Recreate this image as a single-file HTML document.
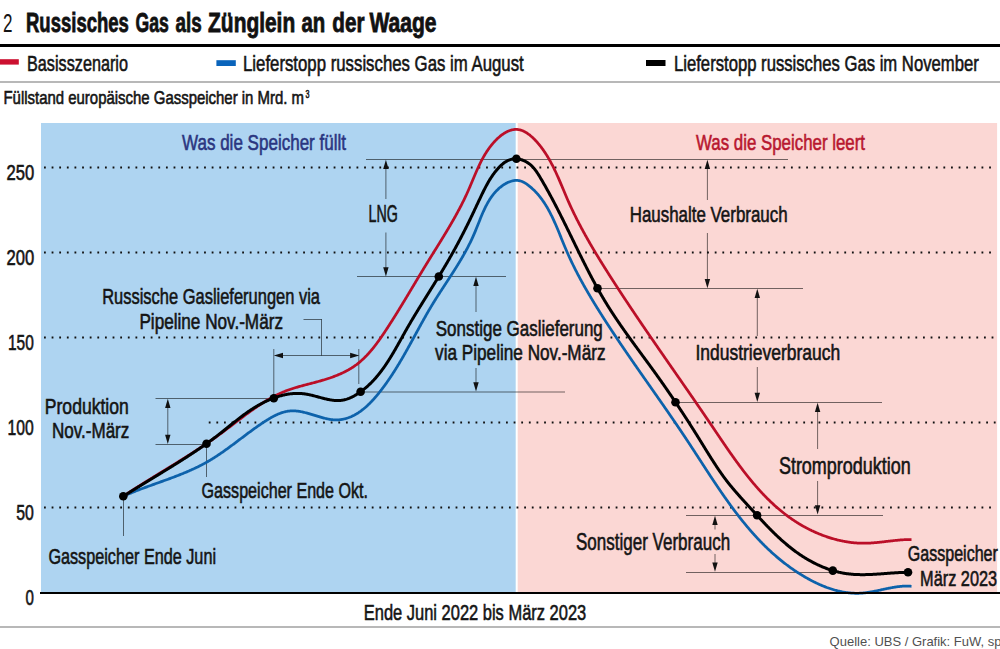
<!DOCTYPE html>
<html><head><meta charset="utf-8"><style>
html,body{margin:0;padding:0;background:#fff;}
svg{display:block;}
text{font-family:"Liberation Sans",sans-serif;}
</style></head><body>
<svg width="1000" height="649" viewBox="0 0 1000 649">
<rect x="0" y="0" width="1000" height="649" fill="#fff"/>
<text x="2.90" y="31.90" font-size="25.58" fill="#141414" textLength="9.50" lengthAdjust="spacingAndGlyphs" stroke="#141414" stroke-width="0">2</text>
<text x="26.00" y="31.80" font-size="26.74" font-weight="bold" fill="#111" textLength="102.89" lengthAdjust="spacingAndGlyphs" stroke="#111" stroke-width="0.8">Russisches</text>
<text x="135.50" y="31.80" font-size="26.74" font-weight="bold" fill="#111" textLength="33.30" lengthAdjust="spacingAndGlyphs" stroke="#111" stroke-width="0.8">Gas</text>
<text x="175.60" y="31.80" font-size="26.74" font-weight="bold" fill="#111" textLength="26.20" lengthAdjust="spacingAndGlyphs" stroke="#111" stroke-width="0.8">als</text>
<text x="208.10" y="31.80" font-size="26.74" font-weight="bold" fill="#111" textLength="87.10" lengthAdjust="spacingAndGlyphs" stroke="#111" stroke-width="0.8">Zünglein</text>
<text x="301.50" y="31.80" font-size="26.74" font-weight="bold" fill="#111" textLength="23.80" lengthAdjust="spacingAndGlyphs" stroke="#111" stroke-width="0.8">an</text>
<text x="332.30" y="31.80" font-size="26.74" font-weight="bold" fill="#111" textLength="32.20" lengthAdjust="spacingAndGlyphs" stroke="#111" stroke-width="0.8">der</text>
<text x="369.40" y="31.80" font-size="26.74" font-weight="bold" fill="#111" textLength="67.10" lengthAdjust="spacingAndGlyphs" stroke="#111" stroke-width="0.8">Waage</text>
<rect x="0" y="44" width="1000" height="3" fill="#000"/>
<rect x="0" y="59.2" width="18.8" height="5.4" fill="#cc1030"/>
<text x="27.00" y="71.00" font-size="22.97" fill="#141414" textLength="101.00" lengthAdjust="spacingAndGlyphs" stroke="#141414" stroke-width="0.6">Basisszenario</text>
<rect x="216.4" y="60.2" width="19.4" height="5.8" fill="#0a64bb"/>
<text x="243.00" y="71.00" font-size="22.97" fill="#141414" textLength="280.75" lengthAdjust="spacingAndGlyphs" stroke="#141414" stroke-width="0.6">Lieferstopp russisches Gas im August</text>
<rect x="646" y="60" width="19.5" height="6" fill="#000"/>
<text x="674.00" y="71.00" font-size="22.97" fill="#141414" textLength="304.75" lengthAdjust="spacingAndGlyphs" stroke="#141414" stroke-width="0.6">Lieferstopp russisches Gas im November</text>
<rect x="0" y="81" width="1000" height="2" fill="#b8b8b8"/>
<text x="3.50" y="103.70" font-size="18.60" fill="#141414" textLength="300.50" lengthAdjust="spacingAndGlyphs" stroke="#141414" stroke-width="0.6">Füllstand europäische Gasspeicher in Mrd. m</text>
<text x="305.60" y="98.40" font-size="11.63" fill="#141414" textLength="4.00" lengthAdjust="spacingAndGlyphs" stroke="#141414" stroke-width="0.6">3</text>
<rect x="41" y="123" width="474.7" height="469.5" fill="#aed4f1"/>
<rect x="517.7" y="123" width="479.4" height="469.5" fill="#fbd7d4"/>
<line x1="44" y1="167.50" x2="992" y2="167.50" stroke="#111" stroke-width="1.8" stroke-dasharray="1.8 5.822"/>
<line x1="44" y1="252.50" x2="992" y2="252.50" stroke="#111" stroke-width="1.8" stroke-dasharray="1.8 5.822"/>
<line x1="44" y1="507.50" x2="992" y2="507.50" stroke="#111" stroke-width="1.8" stroke-dasharray="1.8 5.822"/>
<line x1="44" y1="337.50" x2="420" y2="337.50" stroke="#111" stroke-width="1.8" stroke-dasharray="1.8 5.822"/>
<line x1="610.5" y1="337.50" x2="994" y2="337.50" stroke="#111" stroke-width="1.8" stroke-dasharray="1.8 5.822"/>
<line x1="208.75" y1="422.50" x2="996" y2="422.50" stroke="#111" stroke-width="1.8" stroke-dasharray="1.8 5.822"/>
<rect x="0" y="626" width="1000" height="2" fill="#b8b8b8"/>
<text x="6.50" y="179.50" font-size="22.09" fill="#141414" textLength="27.71" lengthAdjust="spacingAndGlyphs" stroke="#141414" stroke-width="0.6">250</text>
<text x="6.50" y="264.50" font-size="22.09" fill="#141414" textLength="27.71" lengthAdjust="spacingAndGlyphs" stroke="#141414" stroke-width="0.6">200</text>
<text x="8.00" y="349.50" font-size="22.09" fill="#141414" textLength="25.81" lengthAdjust="spacingAndGlyphs" stroke="#141414" stroke-width="0.6">150</text>
<text x="7.60" y="434.50" font-size="22.09" fill="#141414" textLength="26.21" lengthAdjust="spacingAndGlyphs" stroke="#141414" stroke-width="0.6">100</text>
<text x="16.20" y="519.50" font-size="22.09" fill="#141414" textLength="17.60" lengthAdjust="spacingAndGlyphs" stroke="#141414" stroke-width="0.6">50</text>
<text x="25.40" y="604.50" font-size="22.09" fill="#141414" textLength="8.40" lengthAdjust="spacingAndGlyphs" stroke="#141414" stroke-width="0.6">0</text>
<text x="182.00" y="150.00" font-size="22.67" fill="#2a3580" textLength="164.00" lengthAdjust="spacingAndGlyphs" stroke="#2a3580" stroke-width="0.6">Was die Speicher füllt</text>
<text x="696.00" y="150.40" font-size="22.67" fill="#b8172f" textLength="169.00" lengthAdjust="spacingAndGlyphs" stroke="#b8172f" stroke-width="0.6">Was die Speicher leert</text>
<line x1="155.5" y1="398.5" x2="273.8" y2="398.5" stroke="rgba(0,0,0,0.55)" stroke-width="1"/>
<line x1="155.5" y1="444.5" x2="206.5" y2="444.5" stroke="rgba(0,0,0,0.55)" stroke-width="1"/>
<line x1="167.8" y1="405" x2="167.8" y2="436" stroke="rgba(0,0,0,0.55)" stroke-width="1"/>
<polygon points="167.80,398.80 165.10,408.00 170.50,408.00" fill="#111"/>
<polygon points="167.80,444.00 165.10,434.80 170.50,434.80" fill="#111"/>
<line x1="123.5" y1="496" x2="123.5" y2="536" stroke="rgba(0,0,0,0.55)" stroke-width="1"/>
<line x1="206.5" y1="444" x2="206.5" y2="477" stroke="rgba(0,0,0,0.55)" stroke-width="1"/>
<line x1="273.8" y1="349" x2="273.8" y2="398" stroke="rgba(0,0,0,0.55)" stroke-width="1"/>
<line x1="358.8" y1="349" x2="358.8" y2="384" stroke="rgba(0,0,0,0.55)" stroke-width="1"/>
<line x1="281" y1="355.5" x2="352" y2="355.5" stroke="rgba(0,0,0,0.55)" stroke-width="1"/>
<polygon points="273.80,355.50 283.00,352.80 283.00,358.20" fill="#111"/>
<polygon points="359.30,355.50 350.10,352.80 350.10,358.20" fill="#111"/>
<line x1="303.5" y1="319.5" x2="322" y2="319.5" stroke="rgba(0,0,0,0.55)" stroke-width="1"/>
<line x1="321.5" y1="319.5" x2="321.5" y2="355.5" stroke="rgba(0,0,0,0.55)" stroke-width="1"/>
<line x1="366" y1="159.5" x2="788" y2="159.5" stroke="rgba(0,0,0,0.55)" stroke-width="1"/>
<line x1="357" y1="276.5" x2="506" y2="276.5" stroke="rgba(0,0,0,0.55)" stroke-width="1"/>
<line x1="360.6" y1="392" x2="565" y2="392" stroke="rgba(0,0,0,0.55)" stroke-width="1"/>
<line x1="385.9" y1="166" x2="385.9" y2="199" stroke="rgba(0,0,0,0.55)" stroke-width="1"/>
<polygon points="385.90,159.80 383.20,169.00 388.60,169.00" fill="#111"/>
<line x1="385.9" y1="232.5" x2="385.9" y2="270" stroke="rgba(0,0,0,0.55)" stroke-width="1"/>
<polygon points="385.90,276.50 383.20,267.30 388.60,267.30" fill="#111"/>
<line x1="476" y1="283" x2="476" y2="312" stroke="rgba(0,0,0,0.55)" stroke-width="1"/>
<polygon points="476.00,276.80 473.30,286.00 478.70,286.00" fill="#111"/>
<line x1="476" y1="368" x2="476" y2="385" stroke="rgba(0,0,0,0.55)" stroke-width="1"/>
<polygon points="476.00,391.50 473.30,382.30 478.70,382.30" fill="#111"/>
<line x1="597.5" y1="288.5" x2="803" y2="288.5" stroke="rgba(0,0,0,0.55)" stroke-width="1"/>
<line x1="675.5" y1="402.5" x2="882" y2="402.5" stroke="rgba(0,0,0,0.55)" stroke-width="1"/>
<line x1="686" y1="515.5" x2="883" y2="515.5" stroke="rgba(0,0,0,0.55)" stroke-width="1"/>
<line x1="686" y1="572.5" x2="832.7" y2="572.5" stroke="rgba(0,0,0,0.55)" stroke-width="1"/>
<line x1="707.4" y1="166" x2="707.4" y2="200" stroke="rgba(0,0,0,0.55)" stroke-width="1"/>
<polygon points="707.40,159.80 704.70,169.00 710.10,169.00" fill="#111"/>
<line x1="707.4" y1="233" x2="707.4" y2="282" stroke="rgba(0,0,0,0.55)" stroke-width="1"/>
<polygon points="707.40,288.30 704.70,279.10 710.10,279.10" fill="#111"/>
<line x1="757.3" y1="295" x2="757.3" y2="336" stroke="rgba(0,0,0,0.55)" stroke-width="1"/>
<polygon points="757.30,288.80 754.60,298.00 760.00,298.00" fill="#111"/>
<line x1="757.3" y1="367" x2="757.3" y2="395" stroke="rgba(0,0,0,0.55)" stroke-width="1"/>
<polygon points="757.30,402.00 754.60,392.80 760.00,392.80" fill="#111"/>
<line x1="817.6" y1="409" x2="817.6" y2="449" stroke="rgba(0,0,0,0.55)" stroke-width="1"/>
<polygon points="817.60,402.80 814.90,412.00 820.30,412.00" fill="#111"/>
<line x1="817.6" y1="481" x2="817.6" y2="507" stroke="rgba(0,0,0,0.55)" stroke-width="1"/>
<polygon points="817.60,514.50 814.90,505.30 820.30,505.30" fill="#111"/>
<line x1="715" y1="522" x2="715" y2="529.5" stroke="rgba(0,0,0,0.55)" stroke-width="1"/>
<polygon points="715.00,515.80 712.30,525.00 717.70,525.00" fill="#111"/>
<line x1="715" y1="554" x2="715" y2="565" stroke="rgba(0,0,0,0.55)" stroke-width="1"/>
<polygon points="715.00,571.80 712.30,562.60 717.70,562.60" fill="#111"/>
<path d="M123.30,496.30 L124.02,495.98 L124.75,495.66 L125.47,495.34 L126.20,495.02 L126.92,494.70 L127.65,494.39 L128.38,494.08 L129.11,493.77 L129.84,493.46 L130.58,493.16 L131.31,492.86 L132.05,492.55 L132.79,492.25 L133.52,491.96 L134.26,491.66 L135.00,491.37 L135.75,491.07 L136.49,490.78 L137.23,490.49 L137.97,490.20 L138.72,489.92 L139.47,489.63 L140.21,489.34 L140.96,489.06 L141.71,488.78 L142.46,488.50 L143.21,488.22 L143.96,487.94 L144.71,487.66 L145.46,487.38 L146.21,487.10 L146.97,486.83 L147.72,486.55 L148.47,486.27 L149.23,486.00 L149.98,485.73 L150.74,485.45 L151.49,485.18 L152.25,484.91 L153.00,484.64 L153.76,484.36 L154.52,484.09 L155.27,483.82 L156.03,483.55 L156.79,483.28 L157.55,483.01 L158.30,482.73 L159.06,482.46 L159.82,482.19 L160.58,481.92 L161.33,481.65 L162.09,481.37 L162.85,481.10 L163.60,480.83 L164.36,480.55 L165.12,480.28 L165.87,480.01 L166.63,479.73 L167.39,479.45 L168.14,479.18 L168.90,478.90 L169.65,478.62 L170.40,478.34 L171.16,478.06 L171.91,477.78 L172.66,477.50 L173.42,477.22 L174.17,476.93 L174.92,476.65 L175.67,476.36 L176.42,476.07 L177.17,475.78 L177.92,475.49 L178.66,475.20 L179.41,474.90 L180.16,474.61 L180.90,474.31 L181.64,474.01 L182.39,473.71 L183.13,473.41 L183.87,473.10 L184.61,472.80 L185.35,472.49 L186.09,472.18 L186.82,471.87 L187.56,471.55 L188.30,471.24 L189.03,470.92 L189.76,470.60 L190.49,470.27 L191.22,469.95 L191.95,469.62 L192.68,469.29 L193.40,468.96 L194.12,468.62 L194.85,468.28 L195.57,467.94 L196.29,467.60 L197.00,467.25 L197.72,466.91 L198.44,466.55 L199.15,466.20 L199.86,465.84 L200.57,465.48 L201.28,465.12 L201.98,464.75 L202.69,464.38 L203.39,464.00 L204.09,463.63 L204.79,463.25 L205.48,462.86 L206.18,462.48 L206.87,462.09 L207.56,461.69 L208.25,461.29 L208.94,460.89 L209.62,460.49 L210.31,460.08 L210.99,459.67 L211.67,459.25 L212.34,458.84 L213.02,458.42 L213.69,457.99 L214.37,457.57 L215.04,457.14 L215.71,456.71 L216.37,456.27 L217.04,455.84 L217.70,455.40 L218.37,454.96 L219.03,454.51 L219.69,454.06 L220.35,453.62 L221.01,453.17 L221.67,452.71 L222.32,452.26 L222.98,451.80 L223.63,451.34 L224.29,450.88 L224.94,450.42 L225.59,449.95 L226.24,449.49 L226.89,449.02 L227.54,448.55 L228.18,448.08 L228.83,447.61 L229.48,447.14 L230.12,446.66 L230.77,446.19 L231.41,445.71 L232.06,445.24 L232.70,444.76 L233.34,444.28 L233.99,443.80 L234.63,443.32 L235.27,442.84 L235.91,442.36 L236.55,441.88 L237.20,441.39 L237.84,440.91 L238.48,440.43 L239.12,439.94 L239.76,439.46 L240.40,438.98 L241.04,438.49 L241.68,438.01 L242.32,437.53 L242.97,437.04 L243.61,436.56 L244.25,436.08 L244.89,435.60 L245.53,435.12 L246.18,434.64 L246.82,434.16 L247.46,433.68 L248.11,433.20 L248.75,432.72 L249.40,432.24 L250.04,431.77 L250.69,431.29 L251.34,430.82 L251.99,430.35 L252.63,429.87 L253.28,429.40 L253.93,428.94 L254.59,428.47 L255.24,428.00 L255.89,427.54 L256.55,427.08 L257.20,426.62 L257.86,426.16 L258.52,425.70 L259.17,425.25 L259.83,424.79 L260.50,424.34 L261.16,423.89 L261.82,423.45 L262.49,423.00 L263.16,422.56 L263.82,422.12 L264.49,421.69 L265.17,421.25 L265.84,420.82 L266.51,420.39 L267.19,419.97 L267.87,419.55 L268.55,419.13 L269.23,418.72 L269.92,418.32 L270.60,417.92 L271.29,417.52 L271.98,417.14 L272.67,416.76 L273.37,416.39 L274.07,416.02 L274.77,415.67 L275.47,415.32 L276.18,414.98 L276.89,414.66 L277.60,414.34 L278.31,414.03 L279.03,413.74 L279.75,413.45 L280.47,413.18 L281.20,412.92 L281.93,412.68 L282.66,412.44 L283.40,412.23 L284.14,412.02 L284.88,411.83 L285.63,411.66 L286.38,411.50 L287.14,411.35 L287.89,411.22 L288.66,411.11 L289.42,411.02 L290.19,410.95 L290.97,410.89 L291.75,410.85 L292.53,410.83 L293.32,410.83 L294.11,410.85 L294.91,410.89 L295.71,410.94 L296.51,411.01 L297.32,411.10 L298.13,411.21 L298.94,411.33 L299.76,411.46 L300.57,411.60 L301.40,411.76 L302.22,411.93 L303.05,412.12 L303.88,412.31 L304.71,412.51 L305.54,412.72 L306.37,412.94 L307.21,413.16 L308.04,413.40 L308.88,413.63 L309.72,413.88 L310.56,414.13 L311.40,414.38 L312.24,414.63 L313.08,414.89 L313.92,415.14 L314.76,415.40 L315.59,415.66 L316.43,415.92 L317.27,416.17 L318.11,416.42 L318.94,416.67 L319.77,416.92 L320.61,417.16 L321.44,417.40 L322.26,417.63 L323.09,417.85 L323.92,418.06 L324.74,418.27 L325.56,418.47 L326.37,418.65 L327.18,418.83 L327.99,419.00 L328.80,419.15 L329.60,419.29 L330.40,419.42 L331.20,419.53 L331.99,419.63 L332.77,419.71 L333.56,419.77 L334.33,419.82 L335.11,419.85 L335.88,419.87 L336.64,419.86 L337.40,419.85 L338.15,419.81 L338.91,419.76 L339.65,419.70 L340.39,419.62 L341.13,419.52 L341.86,419.41 L342.59,419.29 L343.32,419.15 L344.04,419.00 L344.75,418.83 L345.47,418.65 L346.17,418.45 L346.88,418.24 L347.58,418.02 L348.27,417.79 L348.96,417.54 L349.65,417.28 L350.33,417.00 L351.01,416.72 L351.69,416.42 L352.36,416.11 L353.03,415.79 L353.69,415.46 L354.35,415.12 L355.00,414.76 L355.65,414.39 L356.30,414.02 L356.95,413.63 L357.59,413.23 L358.22,412.83 L358.85,412.41 L359.48,411.98 L360.11,411.55 L360.73,411.10 L361.35,410.65 L361.96,410.18 L362.57,409.71 L363.18,409.23 L363.78,408.74 L364.38,408.24 L364.98,407.74 L365.57,407.22 L366.16,406.70 L366.74,406.18 L367.33,405.64 L367.90,405.10 L368.48,404.55 L369.05,404.00 L369.62,403.44 L370.19,402.87 L370.75,402.30 L371.31,401.72 L371.86,401.13 L372.41,400.54 L372.96,399.95 L373.51,399.35 L374.05,398.75 L374.59,398.14 L375.13,397.52 L375.66,396.91 L376.19,396.29 L376.72,395.66 L377.24,395.03 L377.76,394.40 L378.28,393.77 L378.80,393.13 L379.31,392.49 L379.82,391.85 L380.33,391.20 L380.83,390.55 L381.33,389.91 L381.83,389.25 L382.32,388.60 L382.82,387.95 L383.30,387.29 L383.79,386.64 L384.28,385.98 L384.76,385.32 L385.24,384.66 L385.71,384.00 L386.19,383.34 L386.66,382.68 L387.13,382.01 L387.59,381.34 L388.06,380.68 L388.52,380.01 L388.98,379.34 L389.44,378.67 L389.89,378.00 L390.34,377.33 L390.79,376.65 L391.24,375.98 L391.69,375.30 L392.13,374.63 L392.58,373.95 L393.02,373.27 L393.45,372.59 L393.89,371.91 L394.32,371.23 L394.76,370.55 L395.19,369.87 L395.62,369.18 L396.04,368.50 L396.47,367.81 L396.89,367.13 L397.31,366.44 L397.73,365.75 L398.15,365.06 L398.57,364.38 L398.98,363.69 L399.40,363.00 L399.81,362.30 L400.22,361.61 L400.63,360.92 L401.04,360.23 L401.45,359.54 L401.85,358.84 L402.26,358.15 L402.66,357.45 L403.06,356.76 L403.46,356.06 L403.86,355.37 L404.26,354.67 L404.66,353.97 L405.05,353.28 L405.45,352.58 L405.84,351.88 L406.24,351.18 L406.63,350.48 L407.02,349.78 L407.41,349.09 L407.80,348.39 L408.19,347.69 L408.58,346.99 L408.97,346.29 L409.36,345.59 L409.74,344.89 L410.13,344.18 L410.52,343.48 L410.90,342.78 L411.29,342.08 L411.67,341.38 L412.05,340.68 L412.44,339.98 L412.82,339.28 L413.20,338.58 L413.59,337.88 L413.97,337.17 L414.35,336.47 L414.73,335.77 L415.11,335.07 L415.50,334.37 L415.88,333.67 L416.26,332.97 L416.64,332.27 L417.02,331.57 L417.40,330.87 L417.79,330.17 L418.17,329.47 L418.55,328.77 L418.93,328.07 L419.32,327.37 L419.70,326.68 L420.08,325.98 L420.47,325.28 L420.85,324.58 L421.23,323.89 L421.62,323.19 L422.00,322.50 L422.39,321.80 L422.78,321.11 L423.16,320.41 L423.55,319.72 L423.94,319.02 L424.33,318.33 L424.72,317.64 L425.11,316.95 L425.50,316.26 L425.89,315.56 L426.29,314.88 L426.68,314.19 L427.07,313.50 L427.47,312.81 L427.87,312.12 L428.26,311.44 L428.66,310.75 L429.06,310.07 L429.46,309.38 L429.87,308.70 L430.27,308.02 L430.67,307.33 L431.08,306.65 L431.49,305.97 L431.90,305.30 L432.31,304.62 L432.72,303.94 L433.13,303.26 L433.54,302.59 L433.96,301.91 L434.38,301.24 L434.79,300.57 L435.21,299.90 L435.63,299.22 L436.06,298.55 L436.48,297.88 L436.90,297.22 L437.33,296.55 L437.75,295.88 L438.18,295.21 L438.60,294.54 L439.03,293.88 L439.46,293.21 L439.89,292.55 L440.32,291.88 L440.75,291.22 L441.18,290.55 L441.61,289.89 L442.04,289.22 L442.48,288.56 L442.91,287.89 L443.34,287.23 L443.78,286.57 L444.21,285.90 L444.64,285.24 L445.08,284.58 L445.51,283.91 L445.95,283.25 L446.38,282.59 L446.81,281.92 L447.25,281.26 L447.68,280.59 L448.12,279.93 L448.55,279.26 L448.98,278.60 L449.42,277.93 L449.85,277.27 L450.28,276.60 L450.71,275.94 L451.15,275.27 L451.58,274.60 L452.01,273.93 L452.44,273.26 L452.87,272.60 L453.29,271.93 L453.72,271.25 L454.15,270.58 L454.58,269.91 L455.00,269.24 L455.43,268.57 L455.85,267.89 L456.27,267.22 L456.69,266.54 L457.11,265.86 L457.53,265.19 L457.95,264.51 L458.37,263.83 L458.78,263.15 L459.20,262.46 L459.61,261.78 L460.02,261.10 L460.43,260.41 L460.84,259.72 L461.25,259.04 L461.65,258.35 L462.06,257.66 L462.46,256.96 L462.86,256.27 L463.26,255.57 L463.65,254.88 L464.05,254.18 L464.44,253.48 L464.83,252.78 L465.22,252.08 L465.61,251.37 L465.99,250.67 L466.38,249.96 L466.76,249.25 L467.14,248.54 L467.51,247.83 L467.89,247.11 L468.26,246.40 L468.63,245.68 L468.99,244.96 L469.36,244.24 L469.72,243.51 L470.08,242.79 L470.44,242.06 L470.79,241.33 L471.14,240.59 L471.49,239.86 L471.84,239.12 L472.18,238.38 L472.52,237.64 L472.86,236.90 L473.19,236.15 L473.52,235.40 L473.85,234.65 L474.18,233.90 L474.50,233.15 L474.82,232.39 L475.14,231.63 L475.45,230.87 L475.76,230.11 L476.08,229.34 L476.39,228.58 L476.69,227.81 L477.00,227.05 L477.31,226.28 L477.61,225.51 L477.92,224.74 L478.22,223.97 L478.53,223.21 L478.84,222.44 L479.14,221.67 L479.45,220.91 L479.75,220.14 L480.06,219.38 L480.37,218.61 L480.68,217.85 L480.99,217.09 L481.31,216.33 L481.62,215.57 L481.94,214.82 L482.26,214.07 L482.59,213.32 L482.92,212.57 L483.25,211.82 L483.58,211.08 L483.92,210.34 L484.26,209.61 L484.60,208.87 L484.95,208.15 L485.30,207.42 L485.66,206.70 L486.02,205.98 L486.39,205.27 L486.77,204.56 L487.15,203.86 L487.53,203.16 L487.92,202.47 L488.32,201.78 L488.72,201.10 L489.13,200.43 L489.55,199.76 L489.97,199.09 L490.40,198.43 L490.84,197.78 L491.29,197.13 L491.74,196.49 L492.20,195.86 L492.67,195.24 L493.15,194.62 L493.64,194.01 L494.13,193.41 L494.64,192.81 L495.15,192.22 L495.68,191.64 L496.21,191.07 L496.76,190.51 L497.31,189.96 L497.88,189.41 L498.45,188.88 L499.04,188.35 L499.64,187.83 L500.25,187.32 L500.87,186.83 L501.50,186.34 L502.14,185.86 L502.79,185.40 L503.46,184.95 L504.13,184.51 L504.81,184.09 L505.49,183.69 L506.19,183.31 L506.89,182.94 L507.59,182.60 L508.30,182.27 L509.02,181.97 L509.74,181.69 L510.46,181.44 L511.19,181.21 L511.92,181.00 L512.65,180.83 L513.38,180.68 L514.11,180.56 L514.84,180.48 L515.58,180.42 L516.31,180.40 L517.03,180.41 L517.76,180.46 L518.48,180.54 L519.20,180.66 L519.92,180.82 L520.63,181.02 L521.33,181.25 L522.03,181.52 L522.73,181.82 L523.42,182.14 L524.10,182.50 L524.78,182.88 L525.45,183.28 L526.11,183.71 L526.77,184.15 L527.42,184.61 L528.06,185.09 L528.70,185.57 L529.33,186.07 L529.94,186.57 L530.56,187.08 L531.16,187.60 L531.76,188.12 L532.34,188.65 L532.92,189.19 L533.50,189.73 L534.06,190.28 L534.62,190.83 L535.17,191.39 L535.71,191.96 L536.25,192.53 L536.78,193.11 L537.30,193.69 L537.82,194.28 L538.33,194.87 L538.83,195.47 L539.33,196.08 L539.82,196.68 L540.31,197.30 L540.78,197.92 L541.26,198.54 L541.72,199.17 L542.19,199.81 L542.64,200.45 L543.09,201.09 L543.53,201.74 L543.97,202.39 L544.41,203.05 L544.84,203.71 L545.26,204.37 L545.68,205.04 L546.09,205.71 L546.50,206.39 L546.91,207.07 L547.31,207.75 L547.70,208.44 L548.10,209.13 L548.48,209.83 L548.87,210.53 L549.25,211.23 L549.62,211.93 L550.00,212.64 L550.36,213.35 L550.73,214.06 L551.09,214.78 L551.45,215.50 L551.81,216.22 L552.16,216.94 L552.51,217.67 L552.85,218.40 L553.20,219.13 L553.54,219.86 L553.88,220.60 L554.21,221.34 L554.54,222.07 L554.88,222.82 L555.21,223.56 L555.53,224.30 L555.86,225.05 L556.18,225.80 L556.50,226.55 L556.82,227.30 L557.14,228.05 L557.46,228.80 L557.77,229.56 L558.09,230.31 L558.40,231.07 L558.71,231.83 L559.03,232.58 L559.34,233.34 L559.65,234.10 L559.96,234.86 L560.27,235.62 L560.58,236.38 L560.89,237.14 L561.19,237.90 L561.50,238.66 L561.81,239.42 L562.12,240.18 L562.43,240.94 L562.74,241.70 L563.05,242.46 L563.36,243.22 L563.67,243.98 L563.98,244.74 L564.30,245.49 L564.61,246.25 L564.93,247.00 L565.24,247.76 L565.56,248.51 L565.88,249.26 L566.20,250.01 L566.52,250.76 L566.85,251.51 L567.17,252.26 L567.50,253.00 L567.83,253.75 L568.16,254.49 L568.50,255.23 L568.83,255.97 L569.17,256.71 L569.50,257.45 L569.84,258.18 L570.18,258.92 L570.53,259.65 L570.87,260.38 L571.22,261.11 L571.56,261.84 L571.91,262.57 L572.26,263.30 L572.61,264.03 L572.97,264.75 L573.32,265.48 L573.68,266.20 L574.03,266.92 L574.39,267.64 L574.75,268.36 L575.11,269.08 L575.48,269.80 L575.84,270.51 L576.21,271.23 L576.58,271.94 L576.94,272.65 L577.31,273.37 L577.68,274.08 L578.06,274.79 L578.43,275.50 L578.81,276.20 L579.18,276.91 L579.56,277.62 L579.94,278.32 L580.32,279.03 L580.70,279.73 L581.08,280.43 L581.46,281.13 L581.85,281.83 L582.23,282.53 L582.62,283.23 L583.01,283.93 L583.40,284.63 L583.79,285.32 L584.18,286.02 L584.57,286.71 L584.96,287.41 L585.36,288.10 L585.75,288.79 L586.15,289.48 L586.55,290.18 L586.95,290.87 L587.35,291.55 L587.75,292.24 L588.15,292.93 L588.55,293.62 L588.95,294.30 L589.36,294.99 L589.76,295.68 L590.17,296.36 L590.57,297.04 L590.98,297.73 L591.39,298.41 L591.80,299.09 L592.21,299.77 L592.62,300.45 L593.03,301.13 L593.44,301.81 L593.86,302.49 L594.27,303.17 L594.69,303.85 L595.10,304.53 L595.52,305.20 L595.93,305.88 L596.35,306.56 L596.77,307.23 L597.19,307.91 L597.61,308.58 L598.03,309.26 L598.45,309.93 L598.87,310.60 L599.29,311.28 L599.71,311.95 L600.14,312.62 L600.56,313.30 L600.99,313.97 L601.41,314.64 L601.84,315.31 L602.26,315.98 L602.69,316.65 L603.12,317.32 L603.54,317.99 L603.97,318.66 L604.40,319.33 L604.83,319.99 L605.26,320.66 L605.69,321.33 L606.12,322.00 L606.55,322.66 L606.98,323.33 L607.42,324.00 L607.85,324.66 L608.28,325.33 L608.72,325.99 L609.15,326.66 L609.59,327.32 L610.02,327.99 L610.46,328.65 L610.89,329.32 L611.33,329.98 L611.77,330.64 L612.20,331.31 L612.64,331.97 L613.08,332.63 L613.52,333.29 L613.96,333.96 L614.40,334.62 L614.84,335.28 L615.28,335.94 L615.72,336.60 L616.16,337.26 L616.60,337.92 L617.05,338.58 L617.49,339.24 L617.93,339.90 L618.38,340.56 L618.82,341.22 L619.26,341.88 L619.71,342.54 L620.15,343.20 L620.60,343.85 L621.04,344.51 L621.49,345.17 L621.94,345.83 L622.38,346.49 L622.83,347.14 L623.28,347.80 L623.72,348.46 L624.17,349.11 L624.62,349.77 L625.07,350.43 L625.52,351.08 L625.97,351.74 L626.42,352.40 L626.87,353.05 L627.32,353.71 L627.77,354.36 L628.22,355.02 L628.67,355.68 L629.12,356.33 L629.57,356.99 L630.02,357.64 L630.47,358.30 L630.93,358.95 L631.38,359.61 L631.83,360.26 L632.28,360.91 L632.74,361.57 L633.19,362.22 L633.64,362.88 L634.10,363.53 L634.55,364.19 L635.01,364.84 L635.46,365.49 L635.92,366.15 L636.37,366.80 L636.82,367.45 L637.28,368.11 L637.74,368.76 L638.19,369.41 L638.65,370.07 L639.10,370.72 L639.56,371.38 L640.01,372.03 L640.47,372.68 L640.93,373.34 L641.38,373.99 L641.84,374.64 L642.30,375.30 L642.75,375.95 L643.21,376.60 L643.67,377.26 L644.12,377.91 L644.58,378.56 L645.04,379.21 L645.50,379.87 L645.95,380.52 L646.41,381.17 L646.87,381.83 L647.33,382.48 L647.78,383.14 L648.24,383.79 L648.70,384.44 L649.16,385.10 L649.62,385.75 L650.07,386.40 L650.53,387.06 L650.99,387.71 L651.45,388.36 L651.91,389.02 L652.36,389.67 L652.82,390.33 L653.28,390.98 L653.74,391.63 L654.20,392.29 L654.65,392.94 L655.11,393.60 L655.57,394.25 L656.03,394.91 L656.49,395.56 L656.94,396.22 L657.40,396.87 L657.86,397.53 L658.32,398.18 L658.78,398.84 L659.23,399.49 L659.69,400.15 L660.15,400.81 L660.61,401.46 L661.06,402.12 L661.52,402.77 L661.98,403.43 L662.43,404.09 L662.89,404.74 L663.35,405.40 L663.81,406.06 L664.26,406.72 L664.72,407.37 L665.18,408.03 L665.63,408.69 L666.09,409.35 L666.54,410.01 L667.00,410.66 L667.46,411.32 L667.91,411.98 L668.37,412.64 L668.82,413.30 L669.28,413.96 L669.73,414.62 L670.19,415.28 L670.64,415.94 L671.10,416.60 L671.55,417.26 L672.00,417.92 L672.46,418.58 L672.91,419.25 L673.36,419.91 L673.82,420.57 L674.27,421.23 L674.72,421.89 L675.18,422.56 L675.63,423.22 L676.08,423.88 L676.53,424.55 L676.98,425.21 L677.43,425.88 L677.89,426.54 L678.34,427.21 L678.79,427.87 L679.24,428.54 L679.69,429.20 L680.14,429.87 L680.59,430.54 L681.03,431.20 L681.48,431.87 L681.93,432.54 L682.38,433.20 L682.83,433.87 L683.27,434.54 L683.72,435.21 L684.17,435.88 L684.61,436.55 L685.06,437.22 L685.51,437.89 L685.95,438.56 L686.40,439.23 L686.84,439.90 L687.29,440.57 L687.73,441.25 L688.17,441.92 L688.62,442.59 L689.06,443.27 L689.50,443.94 L689.94,444.61 L690.39,445.29 L690.83,445.96 L691.27,446.64 L691.71,447.31 L692.15,447.99 L692.59,448.66 L693.03,449.34 L693.47,450.01 L693.91,450.69 L694.35,451.37 L694.79,452.04 L695.23,452.72 L695.67,453.39 L696.11,454.07 L696.55,454.75 L696.99,455.43 L697.43,456.10 L697.87,456.78 L698.31,457.46 L698.75,458.13 L699.19,458.81 L699.63,459.49 L700.07,460.16 L700.51,460.84 L700.95,461.52 L701.39,462.20 L701.82,462.87 L702.26,463.55 L702.70,464.23 L703.14,464.90 L703.58,465.58 L704.02,466.26 L704.46,466.93 L704.90,467.61 L705.34,468.29 L705.78,468.96 L706.22,469.64 L706.67,470.31 L707.11,470.99 L707.55,471.66 L707.99,472.34 L708.43,473.01 L708.87,473.69 L709.32,474.36 L709.76,475.03 L710.20,475.71 L710.64,476.38 L711.09,477.05 L711.53,477.73 L711.98,478.40 L712.42,479.07 L712.87,479.74 L713.31,480.41 L713.76,481.08 L714.20,481.75 L714.65,482.42 L715.10,483.09 L715.55,483.76 L715.99,484.43 L716.44,485.09 L716.89,485.76 L717.34,486.43 L717.79,487.09 L718.24,487.76 L718.69,488.42 L719.14,489.09 L719.60,489.75 L720.05,490.41 L720.50,491.08 L720.96,491.74 L721.41,492.40 L721.87,493.06 L722.32,493.72 L722.78,494.38 L723.24,495.04 L723.70,495.70 L724.16,496.35 L724.61,497.01 L725.08,497.66 L725.54,498.32 L726.00,498.97 L726.46,499.63 L726.92,500.28 L727.39,500.93 L727.85,501.58 L728.32,502.23 L728.79,502.88 L729.25,503.53 L729.72,504.17 L730.19,504.82 L730.66,505.47 L731.13,506.11 L731.60,506.75 L732.08,507.40 L732.55,508.04 L733.03,508.68 L733.50,509.32 L733.98,509.96 L734.46,510.60 L734.93,511.23 L735.41,511.87 L735.89,512.50 L736.38,513.13 L736.86,513.77 L737.34,514.40 L737.83,515.03 L738.31,515.66 L738.80,516.28 L739.29,516.91 L739.78,517.54 L740.27,518.16 L740.76,518.78 L741.25,519.41 L741.75,520.03 L742.24,520.65 L742.74,521.26 L743.24,521.88 L743.74,522.50 L744.24,523.11 L744.74,523.72 L745.24,524.33 L745.75,524.95 L746.25,525.55 L746.76,526.16 L747.27,526.77 L747.78,527.37 L748.29,527.98 L748.80,528.58 L749.31,529.18 L749.83,529.78 L750.34,530.38 L750.86,530.97 L751.38,531.57 L751.90,532.16 L752.42,532.75 L752.95,533.34 L753.47,533.93 L754.00,534.52 L754.52,535.10 L755.05,535.69 L755.59,536.27 L756.12,536.85 L756.65,537.43 L757.19,538.01 L757.72,538.58 L758.26,539.16 L758.80,539.73 L759.35,540.30 L759.89,540.87 L760.44,541.44 L760.98,542.00 L761.53,542.57 L762.08,543.13 L762.63,543.69 L763.19,544.25 L763.74,544.81 L764.30,545.36 L764.86,545.91 L765.42,546.47 L765.98,547.02 L766.55,547.56 L767.11,548.11 L767.68,548.65 L768.25,549.20 L768.82,549.74 L769.40,550.27 L769.97,550.81 L770.55,551.35 L771.13,551.88 L771.71,552.41 L772.29,552.94 L772.88,553.46 L773.47,553.99 L774.06,554.51 L774.65,555.03 L775.24,555.55 L775.83,556.07 L776.43,556.58 L777.03,557.09 L777.63,557.60 L778.23,558.11 L778.84,558.62 L779.45,559.12 L780.06,559.62 L780.67,560.12 L781.28,560.62 L781.90,561.11 L782.51,561.60 L783.13,562.09 L783.76,562.58 L784.38,563.07 L785.01,563.55 L785.64,564.03 L786.27,564.51 L786.90,564.99 L787.54,565.46 L788.17,565.94 L788.81,566.41 L789.46,566.87 L790.10,567.34 L790.75,567.80 L791.40,568.26 L792.05,568.72 L792.70,569.17 L793.36,569.63 L794.02,570.08 L794.68,570.52 L795.34,570.97 L796.01,571.41 L796.68,571.85 L797.35,572.29 L798.02,572.73 L798.69,573.16 L799.37,573.59 L800.05,574.02 L800.74,574.44 L801.42,574.86 L802.11,575.28 L802.80,575.70 L803.49,576.12 L804.19,576.53 L804.89,576.94 L805.59,577.34 L806.29,577.75 L807.00,578.15 L807.71,578.54 L808.42,578.94 L809.13,579.33 L809.84,579.71 L810.56,580.10 L811.28,580.48 L812.00,580.85 L812.73,581.23 L813.45,581.60 L814.18,581.96 L814.91,582.32 L815.64,582.68 L816.38,583.03 L817.11,583.38 L817.85,583.72 L818.59,584.06 L819.33,584.39 L820.08,584.72 L820.82,585.05 L821.57,585.37 L822.32,585.68 L823.07,585.99 L823.82,586.30 L824.57,586.60 L825.33,586.89 L826.09,587.18 L826.84,587.47 L827.60,587.74 L828.37,588.02 L829.13,588.28 L829.89,588.54 L830.66,588.80 L831.42,589.05 L832.19,589.29 L832.96,589.53 L833.73,589.76 L834.50,589.98 L835.28,590.20 L836.05,590.41 L836.83,590.61 L837.60,590.81 L838.38,591.00 L839.16,591.18 L839.94,591.36 L840.72,591.53 L841.50,591.69 L842.28,591.85 L843.06,591.99 L843.84,592.13 L844.63,592.27 L845.41,592.39 L846.20,592.51 L846.98,592.62 L847.77,592.72 L848.56,592.81 L849.35,592.90 L850.14,592.97 L850.92,593.04 L851.71,593.10 L852.50,593.16 L853.29,593.20 L854.08,593.23 L854.87,593.26 L855.67,593.28 L856.46,593.29 L857.25,593.28 L858.04,593.28 L858.83,593.26 L859.62,593.23 L860.42,593.19 L861.21,593.14 L862.00,593.09 L862.79,593.02 L863.59,592.95 L864.38,592.87 L865.17,592.78 L865.96,592.68 L866.76,592.57 L867.55,592.46 L868.34,592.35 L869.13,592.22 L869.93,592.09 L870.72,591.96 L871.51,591.82 L872.30,591.67 L873.10,591.52 L873.89,591.37 L874.68,591.21 L875.48,591.05 L876.27,590.89 L877.06,590.73 L877.86,590.56 L878.65,590.39 L879.44,590.22 L880.24,590.05 L881.03,589.88 L881.83,589.70 L882.62,589.53 L883.41,589.36 L884.21,589.19 L885.00,589.01 L885.80,588.85 L886.59,588.68 L887.38,588.51 L888.18,588.35 L888.97,588.19 L889.77,588.03 L890.56,587.88 L891.36,587.73 L892.15,587.58 L892.95,587.44 L893.74,587.31 L894.54,587.18 L895.33,587.05 L896.13,586.93 L896.93,586.82 L897.72,586.72 L898.52,586.62 L899.31,586.53 L900.11,586.44 L900.91,586.37 L901.70,586.30 L902.50,586.24 L903.30,586.20 L904.09,586.16 L904.89,586.13 L905.69,586.11 L906.49,586.10 L907.28,586.10 L908.08,586.12 L908.88,586.15 L909.68,586.18 L910.47,586.23 L911.27,586.30 L911.50,586.32" fill="none" stroke="#0d62ab" stroke-width="2.75" stroke-linejoin="round" stroke-linecap="butt"/>
<path d="M123.30,496.30 L123.96,495.85 L124.63,495.41 L125.29,494.97 L125.96,494.52 L126.63,494.08 L127.30,493.64 L127.96,493.20 L128.63,492.76 L129.30,492.33 L129.97,491.89 L130.64,491.45 L131.31,491.02 L131.98,490.58 L132.66,490.15 L133.33,489.71 L134.00,489.28 L134.67,488.85 L135.35,488.42 L136.02,487.99 L136.70,487.56 L137.37,487.13 L138.05,486.70 L138.72,486.27 L139.40,485.84 L140.07,485.41 L140.75,484.99 L141.43,484.56 L142.10,484.14 L142.78,483.71 L143.46,483.29 L144.14,482.86 L144.82,482.44 L145.50,482.01 L146.18,481.59 L146.86,481.17 L147.53,480.75 L148.21,480.32 L148.90,479.90 L149.58,479.48 L150.26,479.06 L150.94,478.64 L151.62,478.22 L152.30,477.80 L152.98,477.38 L153.66,476.96 L154.34,476.54 L155.03,476.12 L155.71,475.70 L156.39,475.29 L157.07,474.87 L157.75,474.45 L158.44,474.03 L159.12,473.61 L159.80,473.19 L160.48,472.78 L161.17,472.36 L161.85,471.94 L162.53,471.52 L163.21,471.10 L163.90,470.69 L164.58,470.27 L165.26,469.85 L165.94,469.43 L166.63,469.02 L167.31,468.60 L167.99,468.18 L168.67,467.76 L169.36,467.34 L170.04,466.92 L170.72,466.51 L171.40,466.09 L172.08,465.67 L172.77,465.25 L173.45,464.83 L174.13,464.41 L174.81,463.99 L175.49,463.57 L176.17,463.15 L176.85,462.73 L177.53,462.31 L178.21,461.89 L178.89,461.46 L179.57,461.04 L180.25,460.62 L180.93,460.20 L181.61,459.77 L182.29,459.35 L182.97,458.93 L183.65,458.50 L184.32,458.08 L185.00,457.65 L185.68,457.23 L186.36,456.80 L187.03,456.37 L187.71,455.95 L188.38,455.52 L189.06,455.09 L189.74,454.66 L190.41,454.23 L191.08,453.80 L191.76,453.37 L192.43,452.94 L193.10,452.50 L193.78,452.07 L194.45,451.64 L195.12,451.20 L195.79,450.77 L196.46,450.33 L197.13,449.90 L197.80,449.46 L198.47,449.02 L199.14,448.58 L199.81,448.14 L200.47,447.70 L201.14,447.26 L201.81,446.82 L202.47,446.37 L203.14,445.93 L203.80,445.48 L204.46,445.04 L205.13,444.59 L205.79,444.14 L206.45,443.69 L207.11,443.24 L207.77,442.79 L208.43,442.34 L209.09,441.89 L209.75,441.43 L210.41,440.98 L211.06,440.52 L211.72,440.06 L212.37,439.60 L213.03,439.15 L213.68,438.68 L214.34,438.22 L214.99,437.76 L215.64,437.29 L216.29,436.83 L216.94,436.36 L217.59,435.89 L218.24,435.42 L218.88,434.95 L219.53,434.48 L220.18,434.01 L220.82,433.53 L221.47,433.06 L222.11,432.58 L222.75,432.11 L223.39,431.63 L224.04,431.15 L224.68,430.67 L225.32,430.19 L225.96,429.70 L226.60,429.22 L227.24,428.74 L227.87,428.26 L228.51,427.77 L229.15,427.29 L229.79,426.80 L230.43,426.32 L231.06,425.83 L231.70,425.35 L232.34,424.86 L232.97,424.38 L233.61,423.89 L234.25,423.40 L234.89,422.92 L235.52,422.43 L236.16,421.95 L236.80,421.46 L237.44,420.98 L238.07,420.49 L238.71,420.01 L239.35,419.52 L239.99,419.04 L240.63,418.56 L241.27,418.07 L241.91,417.59 L242.55,417.11 L243.19,416.63 L243.83,416.15 L244.47,415.67 L245.12,415.20 L245.76,414.72 L246.41,414.25 L247.05,413.77 L247.70,413.30 L248.34,412.83 L248.99,412.36 L249.64,411.89 L250.29,411.42 L250.94,410.95 L251.59,410.49 L252.25,410.03 L252.90,409.57 L253.55,409.11 L254.21,408.65 L254.87,408.19 L255.53,407.74 L256.19,407.29 L256.85,406.84 L257.51,406.39 L258.17,405.94 L258.84,405.50 L259.51,405.06 L260.18,404.62 L260.85,404.18 L261.52,403.74 L262.19,403.31 L262.86,402.88 L263.54,402.45 L264.22,402.03 L264.90,401.61 L265.58,401.19 L266.26,400.78 L266.95,400.36 L267.63,399.96 L268.32,399.55 L269.01,399.15 L269.70,398.75 L270.40,398.36 L271.09,397.97 L271.79,397.58 L272.49,397.20 L273.19,396.82 L273.89,396.45 L274.60,396.08 L275.30,395.71 L276.01,395.35 L276.72,395.00 L277.43,394.65 L278.15,394.30 L278.86,393.96 L279.58,393.62 L280.30,393.29 L281.02,392.97 L281.75,392.65 L282.47,392.33 L283.20,392.02 L283.93,391.72 L284.66,391.42 L285.40,391.13 L286.13,390.84 L286.87,390.56 L287.61,390.29 L288.35,390.02 L289.10,389.75 L289.84,389.49 L290.59,389.23 L291.34,388.98 L292.09,388.74 L292.84,388.49 L293.60,388.25 L294.35,388.02 L295.11,387.78 L295.87,387.55 L296.63,387.33 L297.39,387.10 L298.15,386.88 L298.91,386.66 L299.68,386.45 L300.44,386.23 L301.21,386.02 L301.97,385.81 L302.74,385.60 L303.51,385.40 L304.28,385.19 L305.05,384.99 L305.82,384.78 L306.59,384.58 L307.37,384.38 L308.14,384.18 L308.91,383.98 L309.69,383.77 L310.46,383.57 L311.24,383.37 L312.01,383.17 L312.79,382.97 L313.56,382.76 L314.34,382.56 L315.11,382.35 L315.89,382.14 L316.66,381.93 L317.44,381.72 L318.21,381.51 L318.99,381.29 L319.77,381.08 L320.54,380.86 L321.31,380.63 L322.09,380.41 L322.86,380.18 L323.63,379.95 L324.41,379.71 L325.18,379.48 L325.95,379.24 L326.72,378.99 L327.48,378.75 L328.25,378.50 L329.01,378.24 L329.78,377.99 L330.54,377.72 L331.30,377.46 L332.06,377.19 L332.81,376.92 L333.57,376.64 L334.32,376.36 L335.07,376.07 L335.82,375.78 L336.56,375.49 L337.30,375.19 L338.04,374.88 L338.78,374.57 L339.51,374.26 L340.24,373.94 L340.97,373.62 L341.69,373.29 L342.41,372.96 L343.13,372.62 L343.84,372.27 L344.55,371.92 L345.26,371.56 L345.96,371.20 L346.66,370.83 L347.35,370.46 L348.04,370.08 L348.73,369.69 L349.41,369.30 L350.09,368.90 L350.76,368.50 L351.43,368.08 L352.09,367.67 L352.75,367.24 L353.40,366.81 L354.05,366.37 L354.69,365.92 L355.32,365.47 L355.95,365.01 L356.58,364.55 L357.20,364.07 L357.82,363.59 L358.43,363.10 L359.03,362.61 L359.63,362.11 L360.23,361.61 L360.82,361.09 L361.41,360.58 L361.99,360.05 L362.57,359.52 L363.14,358.99 L363.71,358.45 L364.27,357.90 L364.83,357.35 L365.39,356.79 L365.94,356.23 L366.49,355.67 L367.03,355.09 L367.57,354.52 L368.11,353.94 L368.64,353.35 L369.17,352.76 L369.70,352.17 L370.22,351.57 L370.74,350.96 L371.25,350.36 L371.76,349.75 L372.27,349.13 L372.78,348.51 L373.28,347.89 L373.78,347.27 L374.27,346.64 L374.77,346.01 L375.26,345.37 L375.74,344.73 L376.23,344.09 L376.71,343.45 L377.19,342.80 L377.67,342.15 L378.15,341.50 L378.62,340.85 L379.09,340.19 L379.56,339.53 L380.02,338.87 L380.49,338.21 L380.95,337.55 L381.41,336.88 L381.87,336.21 L382.33,335.55 L382.78,334.88 L383.24,334.20 L383.69,333.53 L384.14,332.86 L384.59,332.18 L385.04,331.51 L385.49,330.83 L385.93,330.16 L386.38,329.48 L386.82,328.80 L387.27,328.12 L387.71,327.44 L388.15,326.77 L388.59,326.09 L389.03,325.41 L389.47,324.73 L389.90,324.05 L390.34,323.37 L390.78,322.69 L391.21,322.00 L391.64,321.32 L392.08,320.64 L392.51,319.96 L392.94,319.28 L393.37,318.59 L393.80,317.91 L394.23,317.23 L394.66,316.54 L395.09,315.86 L395.51,315.18 L395.94,314.49 L396.37,313.81 L396.79,313.12 L397.22,312.44 L397.64,311.75 L398.06,311.07 L398.49,310.38 L398.91,309.70 L399.33,309.01 L399.75,308.33 L400.17,307.64 L400.59,306.96 L401.01,306.27 L401.43,305.58 L401.84,304.90 L402.26,304.21 L402.68,303.52 L403.10,302.84 L403.51,302.15 L403.93,301.46 L404.34,300.78 L404.76,300.09 L405.17,299.40 L405.59,298.72 L406.00,298.03 L406.42,297.34 L406.83,296.65 L407.24,295.97 L407.65,295.28 L408.07,294.59 L408.48,293.91 L408.89,293.22 L409.30,292.53 L409.71,291.85 L410.13,291.16 L410.54,290.47 L410.95,289.79 L411.36,289.10 L411.77,288.41 L412.18,287.73 L412.59,287.04 L413.00,286.35 L413.41,285.67 L413.82,284.98 L414.23,284.30 L414.64,283.61 L415.05,282.93 L415.46,282.24 L415.87,281.55 L416.28,280.87 L416.69,280.19 L417.10,279.50 L417.51,278.82 L417.92,278.13 L418.33,277.45 L418.74,276.76 L419.15,276.08 L419.56,275.40 L419.98,274.72 L420.39,274.03 L420.80,273.35 L421.21,272.67 L421.62,271.99 L422.03,271.31 L422.45,270.62 L422.86,269.94 L423.27,269.26 L423.68,268.58 L424.10,267.90 L424.51,267.22 L424.92,266.54 L425.34,265.87 L425.75,265.19 L426.17,264.51 L426.58,263.83 L427.00,263.16 L427.42,262.48 L427.83,261.80 L428.25,261.13 L428.67,260.45 L429.08,259.77 L429.50,259.10 L429.92,258.42 L430.34,257.75 L430.75,257.08 L431.17,256.40 L431.59,255.73 L432.01,255.05 L432.43,254.38 L432.85,253.71 L433.27,253.03 L433.69,252.36 L434.10,251.69 L434.52,251.01 L434.94,250.34 L435.36,249.67 L435.78,248.99 L436.20,248.32 L436.62,247.65 L437.04,246.97 L437.45,246.30 L437.87,245.63 L438.29,244.95 L438.71,244.28 L439.12,243.61 L439.54,242.93 L439.96,242.26 L440.37,241.58 L440.79,240.91 L441.21,240.24 L441.62,239.56 L442.04,238.89 L442.45,238.21 L442.86,237.53 L443.28,236.86 L443.69,236.18 L444.10,235.50 L444.51,234.83 L444.92,234.15 L445.34,233.47 L445.74,232.79 L446.15,232.11 L446.56,231.43 L446.97,230.75 L447.38,230.07 L447.78,229.39 L448.19,228.71 L448.59,228.03 L449.00,227.34 L449.40,226.66 L449.80,225.98 L450.20,225.29 L450.60,224.61 L451.00,223.92 L451.40,223.23 L451.80,222.55 L452.20,221.86 L452.59,221.17 L452.99,220.48 L453.38,219.79 L453.77,219.10 L454.16,218.40 L454.55,217.71 L454.94,217.02 L455.33,216.32 L455.71,215.63 L456.10,214.93 L456.48,214.23 L456.87,213.53 L457.25,212.83 L457.63,212.13 L458.01,211.43 L458.38,210.73 L458.76,210.02 L459.13,209.32 L459.51,208.61 L459.88,207.91 L460.25,207.20 L460.62,206.49 L460.98,205.78 L461.35,205.07 L461.71,204.35 L462.07,203.64 L462.44,202.92 L462.79,202.21 L463.15,201.49 L463.51,200.77 L463.86,200.05 L464.21,199.32 L464.56,198.60 L464.91,197.88 L465.26,197.15 L465.60,196.42 L465.95,195.69 L466.29,194.96 L466.63,194.23 L466.96,193.50 L467.30,192.76 L467.63,192.03 L467.96,191.29 L468.29,190.55 L468.62,189.81 L468.95,189.06 L469.27,188.32 L469.59,187.57 L469.91,186.83 L470.23,186.08 L470.55,185.33 L470.87,184.58 L471.18,183.83 L471.50,183.08 L471.81,182.32 L472.13,181.57 L472.44,180.82 L472.76,180.07 L473.07,179.31 L473.39,178.56 L473.71,177.81 L474.02,177.05 L474.34,176.30 L474.66,175.55 L474.98,174.79 L475.30,174.04 L475.62,173.29 L475.95,172.54 L476.27,171.79 L476.60,171.04 L476.93,170.29 L477.26,169.55 L477.60,168.80 L477.93,168.06 L478.27,167.32 L478.62,166.57 L478.96,165.83 L479.31,165.10 L479.66,164.36 L480.02,163.63 L480.38,162.90 L480.75,162.17 L481.11,161.44 L481.49,160.71 L481.86,159.99 L482.25,159.27 L482.63,158.55 L483.02,157.84 L483.42,157.13 L483.82,156.42 L484.23,155.71 L484.64,155.01 L485.06,154.31 L485.48,153.62 L485.91,152.93 L486.35,152.24 L486.79,151.55 L487.24,150.87 L487.70,150.19 L488.16,149.52 L488.63,148.85 L489.11,148.19 L489.59,147.53 L490.08,146.87 L490.58,146.22 L491.09,145.57 L491.60,144.93 L492.13,144.29 L492.66,143.66 L493.20,143.04 L493.75,142.42 L494.30,141.80 L494.87,141.19 L495.44,140.60 L496.01,140.01 L496.60,139.43 L497.19,138.85 L497.78,138.29 L498.38,137.74 L498.99,137.21 L499.61,136.68 L500.22,136.17 L500.85,135.67 L501.48,135.19 L502.11,134.72 L502.75,134.26 L503.39,133.82 L504.03,133.40 L504.68,133.00 L505.33,132.61 L505.98,132.25 L506.64,131.90 L507.30,131.57 L507.96,131.26 L508.63,130.98 L509.29,130.71 L509.96,130.47 L510.63,130.25 L511.29,130.05 L511.96,129.88 L512.63,129.74 L513.30,129.62 L513.97,129.52 L514.65,129.45 L515.31,129.41 L515.98,129.40 L516.65,129.42 L517.32,129.46 L517.98,129.54 L518.65,129.64 L519.31,129.77 L519.97,129.92 L520.63,130.10 L521.29,130.31 L521.94,130.54 L522.59,130.79 L523.24,131.07 L523.89,131.37 L524.53,131.69 L525.17,132.04 L525.81,132.40 L526.45,132.78 L527.08,133.18 L527.70,133.60 L528.33,134.04 L528.95,134.50 L529.57,134.97 L530.18,135.45 L530.79,135.96 L531.39,136.47 L531.99,137.00 L532.58,137.55 L533.17,138.10 L533.76,138.67 L534.34,139.24 L534.91,139.83 L535.48,140.43 L536.05,141.03 L536.61,141.65 L537.16,142.27 L537.71,142.90 L538.25,143.53 L538.78,144.17 L539.31,144.82 L539.83,145.47 L540.35,146.12 L540.86,146.77 L541.36,147.43 L541.85,148.09 L542.34,148.76 L542.83,149.43 L543.30,150.10 L543.78,150.77 L544.24,151.45 L544.70,152.13 L545.15,152.81 L545.60,153.49 L546.05,154.18 L546.48,154.87 L546.92,155.56 L547.35,156.25 L547.77,156.95 L548.19,157.65 L548.60,158.35 L549.01,159.05 L549.41,159.76 L549.81,160.46 L550.21,161.17 L550.60,161.88 L550.99,162.60 L551.37,163.31 L551.75,164.03 L552.12,164.75 L552.49,165.47 L552.86,166.19 L553.23,166.91 L553.59,167.64 L553.95,168.36 L554.30,169.09 L554.65,169.82 L555.00,170.55 L555.35,171.28 L555.69,172.02 L556.04,172.75 L556.37,173.48 L556.71,174.22 L557.04,174.96 L557.38,175.70 L557.71,176.44 L558.03,177.17 L558.36,177.92 L558.69,178.66 L559.01,179.40 L559.33,180.14 L559.65,180.88 L559.97,181.63 L560.29,182.37 L560.60,183.12 L560.92,183.86 L561.23,184.60 L561.55,185.35 L561.86,186.09 L562.17,186.84 L562.49,187.59 L562.80,188.33 L563.11,189.08 L563.42,189.82 L563.74,190.57 L564.05,191.31 L564.36,192.06 L564.67,192.80 L564.99,193.54 L565.30,194.29 L565.62,195.03 L565.93,195.77 L566.25,196.51 L566.57,197.25 L566.88,197.99 L567.20,198.73 L567.52,199.47 L567.85,200.21 L568.17,200.95 L568.50,201.68 L568.82,202.42 L569.15,203.15 L569.48,203.89 L569.82,204.62 L570.15,205.35 L570.48,206.08 L570.82,206.81 L571.16,207.54 L571.50,208.26 L571.84,208.99 L572.18,209.72 L572.53,210.44 L572.87,211.17 L573.22,211.89 L573.57,212.61 L573.92,213.33 L574.27,214.05 L574.62,214.77 L574.98,215.49 L575.33,216.21 L575.69,216.93 L576.05,217.64 L576.41,218.36 L576.77,219.07 L577.13,219.79 L577.49,220.50 L577.86,221.21 L578.22,221.93 L578.59,222.64 L578.96,223.35 L579.33,224.06 L579.70,224.76 L580.07,225.47 L580.44,226.18 L580.82,226.89 L581.19,227.59 L581.57,228.30 L581.95,229.00 L582.33,229.70 L582.71,230.41 L583.09,231.11 L583.47,231.81 L583.86,232.51 L584.24,233.21 L584.63,233.91 L585.01,234.61 L585.40,235.31 L585.79,236.00 L586.18,236.70 L586.57,237.40 L586.96,238.09 L587.36,238.79 L587.75,239.48 L588.14,240.18 L588.54,240.87 L588.94,241.56 L589.33,242.25 L589.73,242.94 L590.13,243.63 L590.53,244.32 L590.93,245.01 L591.33,245.70 L591.74,246.39 L592.14,247.08 L592.55,247.77 L592.95,248.45 L593.36,249.14 L593.76,249.83 L594.17,250.51 L594.58,251.20 L594.99,251.88 L595.40,252.56 L595.81,253.25 L596.22,253.93 L596.63,254.61 L597.05,255.29 L597.46,255.98 L597.87,256.66 L598.29,257.34 L598.70,258.02 L599.12,258.70 L599.54,259.38 L599.95,260.05 L600.37,260.73 L600.79,261.41 L601.21,262.09 L601.63,262.77 L602.05,263.44 L602.47,264.12 L602.89,264.80 L603.31,265.47 L603.73,266.15 L604.15,266.82 L604.58,267.50 L605.00,268.17 L605.43,268.84 L605.85,269.52 L606.27,270.19 L606.70,270.86 L607.12,271.54 L607.55,272.21 L607.98,272.88 L608.40,273.55 L608.83,274.22 L609.26,274.89 L609.69,275.57 L610.11,276.24 L610.54,276.91 L610.97,277.58 L611.40,278.25 L611.83,278.92 L612.26,279.58 L612.69,280.25 L613.12,280.92 L613.55,281.59 L613.98,282.26 L614.41,282.93 L614.84,283.59 L615.27,284.26 L615.71,284.93 L616.14,285.60 L616.57,286.26 L617.00,286.93 L617.44,287.60 L617.87,288.26 L618.31,288.93 L618.74,289.59 L619.17,290.26 L619.61,290.92 L620.04,291.59 L620.48,292.25 L620.92,292.92 L621.35,293.58 L621.79,294.25 L622.22,294.91 L622.66,295.57 L623.10,296.24 L623.54,296.90 L623.97,297.56 L624.41,298.23 L624.85,298.89 L625.29,299.55 L625.73,300.21 L626.16,300.88 L626.60,301.54 L627.04,302.20 L627.48,302.86 L627.92,303.52 L628.36,304.18 L628.80,304.84 L629.24,305.50 L629.68,306.17 L630.13,306.83 L630.57,307.49 L631.01,308.15 L631.45,308.81 L631.89,309.47 L632.33,310.13 L632.78,310.79 L633.22,311.44 L633.66,312.10 L634.11,312.76 L634.55,313.42 L634.99,314.08 L635.44,314.74 L635.88,315.40 L636.33,316.06 L636.77,316.71 L637.21,317.37 L637.66,318.03 L638.10,318.69 L638.55,319.35 L639.00,320.00 L639.44,320.66 L639.89,321.32 L640.33,321.98 L640.78,322.63 L641.23,323.29 L641.67,323.95 L642.12,324.60 L642.57,325.26 L643.01,325.92 L643.46,326.57 L643.91,327.23 L644.36,327.89 L644.80,328.54 L645.25,329.20 L645.70,329.85 L646.15,330.51 L646.60,331.17 L647.05,331.82 L647.50,332.48 L647.95,333.13 L648.39,333.79 L648.84,334.44 L649.29,335.10 L649.74,335.76 L650.19,336.41 L650.64,337.07 L651.09,337.72 L651.54,338.38 L651.99,339.03 L652.45,339.69 L652.90,340.34 L653.35,341.00 L653.80,341.65 L654.25,342.31 L654.70,342.96 L655.15,343.62 L655.60,344.27 L656.06,344.93 L656.51,345.58 L656.96,346.24 L657.41,346.89 L657.86,347.54 L658.32,348.20 L658.77,348.85 L659.22,349.51 L659.67,350.16 L660.13,350.82 L660.58,351.47 L661.03,352.13 L661.49,352.78 L661.94,353.44 L662.39,354.09 L662.84,354.75 L663.30,355.40 L663.75,356.05 L664.21,356.71 L664.66,357.36 L665.11,358.02 L665.57,358.67 L666.02,359.33 L666.48,359.98 L666.93,360.64 L667.38,361.29 L667.84,361.95 L668.29,362.60 L668.75,363.26 L669.20,363.91 L669.66,364.57 L670.11,365.22 L670.57,365.88 L671.02,366.53 L671.47,367.19 L671.93,367.84 L672.38,368.50 L672.84,369.15 L673.29,369.81 L673.75,370.46 L674.21,371.12 L674.66,371.77 L675.12,372.43 L675.57,373.08 L676.03,373.74 L676.48,374.40 L676.94,375.05 L677.39,375.71 L677.85,376.36 L678.30,377.02 L678.76,377.67 L679.21,378.33 L679.67,378.99 L680.13,379.64 L680.58,380.30 L681.04,380.96 L681.49,381.61 L681.95,382.27 L682.40,382.93 L682.86,383.58 L683.32,384.24 L683.77,384.90 L684.23,385.56 L684.68,386.21 L685.14,386.87 L685.59,387.53 L686.05,388.19 L686.51,388.84 L686.96,389.50 L687.42,390.16 L687.87,390.82 L688.33,391.48 L688.78,392.14 L689.24,392.80 L689.69,393.45 L690.15,394.11 L690.61,394.77 L691.06,395.43 L691.52,396.09 L691.97,396.75 L692.43,397.41 L692.88,398.07 L693.34,398.73 L693.79,399.39 L694.25,400.05 L694.70,400.71 L695.16,401.37 L695.61,402.03 L696.07,402.70 L696.52,403.36 L696.98,404.02 L697.43,404.68 L697.89,405.34 L698.34,406.00 L698.80,406.67 L699.25,407.33 L699.71,407.99 L700.16,408.65 L700.62,409.32 L701.07,409.98 L701.53,410.64 L701.98,411.31 L702.44,411.97 L702.89,412.63 L703.34,413.30 L703.80,413.96 L704.25,414.63 L704.71,415.29 L705.16,415.96 L705.61,416.62 L706.07,417.29 L706.52,417.96 L706.97,418.62 L707.43,419.29 L707.88,419.95 L708.33,420.62 L708.79,421.29 L709.24,421.95 L709.69,422.62 L710.14,423.29 L710.60,423.96 L711.05,424.63 L711.50,425.29 L711.95,425.96 L712.41,426.63 L712.86,427.30 L713.31,427.97 L713.76,428.64 L714.21,429.31 L714.67,429.98 L715.12,430.65 L715.57,431.32 L716.02,431.99 L716.47,432.66 L716.93,433.33 L717.38,434.00 L717.83,434.67 L718.28,435.34 L718.74,436.01 L719.19,436.68 L719.64,437.35 L720.10,438.02 L720.55,438.69 L721.00,439.36 L721.46,440.03 L721.91,440.69 L722.37,441.36 L722.82,442.03 L723.28,442.70 L723.73,443.37 L724.19,444.03 L724.64,444.70 L725.10,445.37 L725.56,446.03 L726.01,446.70 L726.47,447.36 L726.93,448.03 L727.39,448.69 L727.85,449.36 L728.31,450.02 L728.77,450.68 L729.23,451.35 L729.69,452.01 L730.15,452.67 L730.62,453.33 L731.08,453.99 L731.55,454.65 L732.01,455.31 L732.48,455.96 L732.94,456.62 L733.41,457.28 L733.88,457.93 L734.34,458.59 L734.81,459.24 L735.28,459.90 L735.75,460.55 L736.23,461.20 L736.70,461.85 L737.17,462.50 L737.65,463.15 L738.12,463.79 L738.60,464.44 L739.07,465.09 L739.55,465.73 L740.03,466.37 L740.51,467.02 L740.99,467.66 L741.47,468.30 L741.96,468.94 L742.44,469.57 L742.92,470.21 L743.41,470.85 L743.90,471.48 L744.39,472.11 L744.88,472.75 L745.37,473.38 L745.86,474.01 L746.35,474.63 L746.84,475.26 L747.34,475.88 L747.84,476.51 L748.33,477.13 L748.83,477.75 L749.33,478.37 L749.84,478.99 L750.34,479.60 L750.84,480.22 L751.35,480.83 L751.86,481.44 L752.37,482.05 L752.88,482.66 L753.39,483.27 L753.90,483.87 L754.41,484.48 L754.93,485.08 L755.45,485.68 L755.97,486.28 L756.49,486.87 L757.01,487.47 L757.53,488.06 L758.06,488.65 L758.58,489.24 L759.11,489.83 L759.64,490.42 L760.17,491.00 L760.71,491.58 L761.24,492.16 L761.78,492.74 L762.32,493.32 L762.86,493.89 L763.40,494.46 L763.94,495.03 L764.49,495.60 L765.04,496.16 L765.59,496.73 L766.14,497.29 L766.69,497.85 L767.25,498.40 L767.80,498.96 L768.36,499.51 L768.92,500.06 L769.49,500.61 L770.05,501.16 L770.62,501.70 L771.19,502.24 L771.76,502.78 L772.33,503.31 L772.90,503.85 L773.48,504.38 L774.06,504.91 L774.64,505.43 L775.23,505.96 L775.81,506.48 L776.40,507.00 L776.99,507.52 L777.58,508.03 L778.17,508.54 L778.77,509.05 L779.37,509.56 L779.97,510.06 L780.57,510.56 L781.18,511.06 L781.79,511.55 L782.40,512.05 L783.01,512.54 L783.63,513.02 L784.24,513.51 L784.86,513.99 L785.49,514.47 L786.11,514.94 L786.74,515.41 L787.37,515.88 L788.00,516.35 L788.64,516.81 L789.27,517.28 L789.91,517.73 L790.56,518.19 L791.20,518.64 L791.85,519.09 L792.50,519.53 L793.15,519.98 L793.81,520.42 L794.47,520.85 L795.13,521.29 L795.79,521.72 L796.46,522.14 L797.13,522.57 L797.80,522.99 L798.48,523.40 L799.15,523.82 L799.83,524.23 L800.52,524.63 L801.20,525.04 L801.89,525.44 L802.58,525.84 L803.28,526.23 L803.98,526.62 L804.68,527.01 L805.38,527.39 L806.09,527.77 L806.80,528.14 L807.51,528.52 L808.23,528.89 L808.95,529.25 L809.67,529.61 L810.39,529.97 L811.12,530.32 L811.85,530.68 L812.59,531.02 L813.32,531.36 L814.06,531.70 L814.80,532.04 L815.55,532.37 L816.30,532.70 L817.05,533.02 L817.80,533.34 L818.55,533.65 L819.31,533.96 L820.07,534.27 L820.83,534.57 L821.60,534.87 L822.36,535.16 L823.13,535.45 L823.90,535.74 L824.67,536.02 L825.44,536.29 L826.22,536.56 L827.00,536.83 L827.77,537.09 L828.55,537.35 L829.34,537.60 L830.12,537.85 L830.90,538.09 L831.69,538.33 L832.48,538.56 L833.26,538.79 L834.05,539.01 L834.84,539.23 L835.63,539.44 L836.43,539.64 L837.22,539.85 L838.01,540.04 L838.81,540.23 L839.60,540.42 L840.40,540.60 L841.20,540.77 L841.99,540.94 L842.79,541.10 L843.59,541.26 L844.39,541.41 L845.19,541.56 L845.99,541.70 L846.79,541.84 L847.58,541.96 L848.38,542.09 L849.18,542.20 L849.98,542.32 L850.78,542.42 L851.58,542.52 L852.38,542.61 L853.17,542.70 L853.97,542.78 L854.77,542.85 L855.57,542.92 L856.36,542.98 L857.16,543.04 L857.95,543.09 L858.74,543.13 L859.54,543.16 L860.33,543.19 L861.12,543.22 L861.91,543.23 L862.70,543.24 L863.49,543.24 L864.27,543.24 L865.06,543.23 L865.84,543.22 L866.63,543.20 L867.41,543.17 L868.20,543.14 L868.98,543.10 L869.76,543.06 L870.54,543.02 L871.32,542.97 L872.10,542.92 L872.88,542.86 L873.66,542.80 L874.44,542.74 L875.22,542.67 L876.00,542.60 L876.78,542.52 L877.56,542.45 L878.34,542.37 L879.12,542.29 L879.90,542.21 L880.68,542.12 L881.46,542.03 L882.24,541.95 L883.02,541.86 L883.80,541.77 L884.58,541.68 L885.36,541.58 L886.15,541.49 L886.93,541.40 L887.71,541.31 L888.50,541.21 L889.28,541.12 L890.07,541.03 L890.86,540.94 L891.64,540.85 L892.43,540.76 L893.22,540.67 L894.01,540.59 L894.80,540.50 L895.60,540.42 L896.39,540.34 L897.19,540.26 L897.98,540.19 L898.78,540.12 L899.58,540.05 L900.38,539.98 L901.18,539.92 L901.99,539.86 L902.79,539.80 L903.60,539.75 L904.41,539.70 L905.22,539.66 L906.03,539.62 L906.85,539.59 L907.66,539.56 L908.48,539.54 L909.30,539.52 L910.12,539.50 L910.95,539.50 L911.50,539.50" fill="none" stroke="#bb0f28" stroke-width="2.75" stroke-linejoin="round" stroke-linecap="butt"/>
<path d="M123.30,496.30 L123.97,495.87 L124.64,495.45 L125.31,495.02 L125.98,494.60 L126.65,494.17 L127.32,493.75 L127.99,493.32 L128.66,492.90 L129.33,492.48 L130.01,492.06 L130.68,491.64 L131.36,491.21 L132.03,490.79 L132.71,490.37 L133.39,489.95 L134.06,489.53 L134.74,489.11 L135.42,488.69 L136.10,488.27 L136.77,487.86 L137.45,487.44 L138.13,487.02 L138.81,486.60 L139.49,486.18 L140.17,485.77 L140.86,485.35 L141.54,484.93 L142.22,484.51 L142.90,484.10 L143.58,483.68 L144.27,483.26 L144.95,482.85 L145.63,482.43 L146.31,482.01 L147.00,481.60 L147.68,481.18 L148.37,480.77 L149.05,480.35 L149.73,479.93 L150.42,479.52 L151.10,479.10 L151.79,478.69 L152.47,478.27 L153.16,477.85 L153.84,477.44 L154.53,477.02 L155.21,476.60 L155.90,476.19 L156.59,475.77 L157.27,475.35 L157.96,474.94 L158.64,474.52 L159.33,474.10 L160.01,473.69 L160.70,473.27 L161.38,472.85 L162.07,472.43 L162.75,472.01 L163.44,471.59 L164.12,471.18 L164.81,470.76 L165.49,470.34 L166.18,469.92 L166.86,469.50 L167.55,469.08 L168.23,468.66 L168.91,468.24 L169.60,467.81 L170.28,467.39 L170.96,466.97 L171.65,466.55 L172.33,466.12 L173.01,465.70 L173.69,465.28 L174.37,464.85 L175.06,464.43 L175.74,464.00 L176.42,463.58 L177.10,463.15 L177.78,462.72 L178.46,462.30 L179.14,461.87 L179.81,461.44 L180.49,461.01 L181.17,460.58 L181.85,460.15 L182.52,459.72 L183.20,459.29 L183.88,458.85 L184.55,458.42 L185.23,457.99 L185.90,457.55 L186.57,457.12 L187.25,456.68 L187.92,456.25 L188.59,455.81 L189.26,455.37 L189.93,454.93 L190.60,454.49 L191.27,454.05 L191.94,453.61 L192.61,453.17 L193.28,452.73 L193.94,452.28 L194.61,451.84 L195.27,451.39 L195.94,450.95 L196.60,450.50 L197.26,450.05 L197.92,449.60 L198.59,449.15 L199.25,448.70 L199.91,448.25 L200.56,447.80 L201.22,447.34 L201.88,446.89 L202.53,446.43 L203.19,445.97 L203.84,445.52 L204.50,445.06 L205.15,444.60 L205.80,444.14 L206.45,443.67 L207.10,443.21 L207.75,442.74 L208.40,442.28 L209.04,441.81 L209.69,441.34 L210.33,440.87 L210.97,440.40 L211.62,439.93 L212.26,439.46 L212.90,438.99 L213.54,438.51 L214.17,438.03 L214.81,437.56 L215.44,437.08 L216.08,436.60 L216.71,436.11 L217.34,435.63 L217.97,435.15 L218.60,434.66 L219.23,434.17 L219.86,433.68 L220.48,433.19 L221.11,432.70 L221.73,432.21 L222.35,431.72 L222.98,431.22 L223.60,430.73 L224.22,430.23 L224.84,429.74 L225.46,429.24 L226.08,428.74 L226.69,428.25 L227.31,427.75 L227.93,427.25 L228.55,426.75 L229.17,426.26 L229.78,425.76 L230.40,425.26 L231.02,424.77 L231.64,424.27 L232.26,423.77 L232.88,423.28 L233.50,422.78 L234.12,422.29 L234.74,421.80 L235.36,421.30 L235.98,420.81 L236.61,420.32 L237.23,419.83 L237.86,419.35 L238.48,418.86 L239.11,418.38 L239.74,417.89 L240.37,417.41 L241.00,416.93 L241.63,416.46 L242.27,415.98 L242.91,415.51 L243.54,415.04 L244.18,414.57 L244.83,414.10 L245.47,413.63 L246.12,413.17 L246.76,412.71 L247.41,412.26 L248.07,411.80 L248.72,411.35 L249.38,410.90 L250.04,410.46 L250.70,410.02 L251.37,409.58 L252.03,409.14 L252.70,408.71 L253.38,408.28 L254.05,407.86 L254.73,407.44 L255.42,407.02 L256.10,406.61 L256.79,406.20 L257.48,405.79 L258.18,405.39 L258.88,404.99 L259.58,404.60 L260.29,404.21 L261.00,403.83 L261.71,403.45 L262.43,403.08 L263.15,402.71 L263.88,402.34 L264.60,401.98 L265.33,401.63 L266.06,401.28 L266.80,400.94 L267.54,400.60 L268.27,400.27 L269.02,399.95 L269.76,399.63 L270.50,399.32 L271.25,399.01 L272.00,398.71 L272.75,398.42 L273.50,398.14 L274.25,397.86 L275.00,397.59 L275.75,397.32 L276.51,397.07 L277.26,396.82 L278.01,396.58 L278.77,396.34 L279.52,396.12 L280.27,395.90 L281.03,395.69 L281.78,395.49 L282.53,395.30 L283.28,395.12 L284.03,394.94 L284.78,394.78 L285.52,394.62 L286.27,394.48 L287.01,394.34 L287.76,394.21 L288.50,394.09 L289.24,393.98 L289.98,393.88 L290.72,393.79 L291.47,393.71 L292.21,393.64 L292.95,393.58 L293.69,393.53 L294.43,393.49 L295.17,393.45 L295.91,393.43 L296.66,393.42 L297.40,393.42 L298.14,393.43 L298.89,393.44 L299.64,393.47 L300.39,393.51 L301.14,393.56 L301.89,393.62 L302.65,393.69 L303.40,393.77 L304.16,393.85 L304.92,393.96 L305.69,394.07 L306.45,394.19 L307.22,394.32 L307.99,394.46 L308.77,394.62 L309.55,394.78 L310.33,394.95 L311.11,395.13 L311.90,395.32 L312.69,395.51 L313.48,395.71 L314.27,395.91 L315.06,396.12 L315.86,396.34 L316.66,396.55 L317.46,396.77 L318.26,396.98 L319.06,397.20 L319.86,397.42 L320.67,397.64 L321.47,397.85 L322.27,398.07 L323.08,398.27 L323.89,398.48 L324.69,398.68 L325.50,398.87 L326.30,399.06 L327.11,399.24 L327.91,399.41 L328.72,399.57 L329.52,399.72 L330.33,399.87 L331.13,400.00 L331.93,400.12 L332.73,400.22 L333.53,400.32 L334.32,400.39 L335.12,400.46 L335.91,400.51 L336.70,400.54 L337.49,400.55 L338.28,400.54 L339.06,400.52 L339.85,400.48 L340.63,400.41 L341.40,400.33 L342.18,400.22 L342.95,400.09 L343.72,399.94 L344.48,399.77 L345.24,399.58 L346.00,399.37 L346.75,399.14 L347.50,398.89 L348.25,398.62 L348.99,398.34 L349.73,398.04 L350.46,397.73 L351.19,397.40 L351.91,397.05 L352.63,396.70 L353.35,396.33 L354.06,395.94 L354.77,395.55 L355.47,395.14 L356.16,394.73 L356.85,394.30 L357.54,393.87 L358.21,393.42 L358.89,392.97 L359.56,392.51 L360.22,392.05 L360.87,391.57 L361.52,391.10 L362.17,390.61 L362.80,390.12 L363.44,389.63 L364.06,389.13 L364.68,388.63 L365.30,388.12 L365.91,387.60 L366.51,387.08 L367.11,386.56 L367.70,386.03 L368.29,385.50 L368.87,384.96 L369.45,384.41 L370.02,383.86 L370.59,383.31 L371.15,382.75 L371.71,382.19 L372.26,381.62 L372.81,381.05 L373.35,380.48 L373.89,379.90 L374.43,379.31 L374.96,378.73 L375.48,378.14 L376.00,377.54 L376.52,376.94 L377.03,376.34 L377.54,375.73 L378.05,375.12 L378.55,374.51 L379.04,373.89 L379.54,373.27 L380.03,372.64 L380.51,372.02 L381.00,371.38 L381.47,370.75 L381.95,370.11 L382.42,369.47 L382.89,368.83 L383.36,368.18 L383.82,367.53 L384.28,366.88 L384.73,366.23 L385.19,365.57 L385.64,364.91 L386.09,364.25 L386.53,363.59 L386.97,362.92 L387.41,362.25 L387.85,361.58 L388.28,360.90 L388.72,360.23 L389.15,359.55 L389.57,358.87 L390.00,358.19 L390.42,357.51 L390.85,356.82 L391.26,356.14 L391.68,355.45 L392.10,354.76 L392.51,354.07 L392.93,353.37 L393.34,352.68 L393.75,351.98 L394.15,351.29 L394.56,350.59 L394.97,349.89 L395.37,349.19 L395.77,348.49 L396.17,347.79 L396.57,347.09 L396.97,346.38 L397.37,345.68 L397.77,344.97 L398.17,344.27 L398.56,343.56 L398.96,342.86 L399.36,342.15 L399.75,341.44 L400.14,340.74 L400.54,340.03 L400.93,339.32 L401.33,338.62 L401.72,337.91 L402.11,337.20 L402.51,336.50 L402.90,335.79 L403.30,335.09 L403.69,334.38 L404.08,333.67 L404.48,332.97 L404.87,332.27 L405.27,331.56 L405.67,330.86 L406.06,330.16 L406.46,329.46 L406.86,328.76 L407.26,328.06 L407.66,327.36 L408.06,326.67 L408.46,325.97 L408.86,325.28 L409.27,324.58 L409.67,323.89 L410.08,323.20 L410.48,322.50 L410.89,321.81 L411.29,321.12 L411.70,320.43 L412.11,319.75 L412.52,319.06 L412.93,318.37 L413.34,317.68 L413.75,317.00 L414.16,316.31 L414.57,315.63 L414.98,314.95 L415.40,314.26 L415.81,313.58 L416.22,312.90 L416.64,312.22 L417.05,311.54 L417.47,310.86 L417.88,310.18 L418.30,309.50 L418.71,308.82 L419.13,308.14 L419.55,307.46 L419.97,306.78 L420.38,306.11 L420.80,305.43 L421.22,304.75 L421.64,304.08 L422.06,303.40 L422.48,302.72 L422.89,302.05 L423.31,301.37 L423.73,300.70 L424.15,300.02 L424.57,299.35 L424.99,298.67 L425.41,298.00 L425.83,297.33 L426.26,296.65 L426.68,295.98 L427.10,295.30 L427.52,294.63 L427.94,293.96 L428.36,293.28 L428.78,292.61 L429.20,291.94 L429.62,291.26 L430.04,290.59 L430.46,289.91 L430.88,289.24 L431.30,288.57 L431.72,287.89 L432.14,287.22 L432.56,286.54 L432.98,285.87 L433.40,285.19 L433.82,284.52 L434.24,283.84 L434.66,283.16 L435.08,282.49 L435.50,281.81 L435.92,281.14 L436.34,280.46 L436.76,279.78 L437.17,279.10 L437.59,278.42 L438.01,277.75 L438.42,277.07 L438.84,276.39 L439.26,275.71 L439.67,275.03 L440.09,274.35 L440.50,273.66 L440.91,272.98 L441.33,272.30 L441.74,271.62 L442.15,270.93 L442.57,270.25 L442.98,269.56 L443.39,268.88 L443.80,268.19 L444.21,267.50 L444.62,266.81 L445.03,266.13 L445.44,265.44 L445.84,264.75 L446.25,264.05 L446.66,263.36 L447.06,262.67 L447.47,261.98 L447.87,261.28 L448.27,260.59 L448.67,259.89 L449.08,259.19 L449.48,258.49 L449.88,257.80 L450.28,257.10 L450.67,256.39 L451.07,255.69 L451.47,254.99 L451.87,254.29 L452.26,253.58 L452.65,252.88 L453.05,252.17 L453.44,251.47 L453.83,250.76 L454.22,250.06 L454.61,249.35 L455.00,248.64 L455.39,247.93 L455.78,247.22 L456.16,246.51 L456.55,245.81 L456.93,245.10 L457.31,244.38 L457.70,243.67 L458.08,242.96 L458.46,242.25 L458.84,241.54 L459.21,240.83 L459.59,240.12 L459.97,239.41 L460.34,238.69 L460.71,237.98 L461.09,237.27 L461.46,236.56 L461.83,235.84 L462.20,235.13 L462.56,234.42 L462.93,233.71 L463.30,232.99 L463.66,232.28 L464.02,231.57 L464.39,230.86 L464.75,230.15 L465.11,229.44 L465.47,228.73 L465.82,228.01 L466.18,227.30 L466.53,226.59 L466.89,225.88 L467.24,225.18 L467.59,224.47 L467.94,223.76 L468.29,223.05 L468.63,222.34 L468.98,221.64 L469.32,220.93 L469.67,220.22 L470.01,219.52 L470.35,218.81 L470.69,218.11 L471.03,217.41 L471.36,216.70 L471.70,216.00 L472.03,215.30 L472.37,214.60 L472.70,213.89 L473.03,213.19 L473.37,212.49 L473.70,211.79 L474.03,211.09 L474.36,210.38 L474.69,209.68 L475.02,208.98 L475.35,208.27 L475.69,207.57 L476.02,206.86 L476.35,206.15 L476.68,205.45 L477.01,204.74 L477.35,204.03 L477.68,203.32 L478.02,202.61 L478.35,201.90 L478.69,201.18 L479.03,200.47 L479.37,199.75 L479.71,199.04 L480.05,198.32 L480.39,197.60 L480.74,196.87 L481.09,196.15 L481.43,195.42 L481.78,194.69 L482.14,193.96 L482.49,193.23 L482.85,192.50 L483.21,191.77 L483.57,191.03 L483.94,190.30 L484.31,189.57 L484.68,188.83 L485.06,188.10 L485.44,187.36 L485.83,186.63 L486.22,185.90 L486.61,185.17 L487.01,184.44 L487.42,183.71 L487.83,182.98 L488.24,182.26 L488.66,181.54 L489.09,180.82 L489.52,180.10 L489.96,179.38 L490.41,178.67 L490.86,177.96 L491.32,177.26 L491.78,176.56 L492.26,175.86 L492.74,175.17 L493.23,174.48 L493.72,173.79 L494.23,173.11 L494.74,172.44 L495.26,171.77 L495.79,171.11 L496.33,170.45 L496.88,169.79 L497.44,169.15 L498.01,168.51 L498.58,167.88 L499.17,167.25 L499.76,166.64 L500.37,166.04 L500.98,165.46 L501.60,164.89 L502.23,164.34 L502.87,163.80 L503.52,163.29 L504.17,162.80 L504.83,162.33 L505.50,161.88 L506.18,161.46 L506.87,161.07 L507.56,160.71 L508.26,160.38 L508.97,160.08 L509.68,159.81 L510.40,159.58 L511.12,159.38 L511.86,159.21 L512.59,159.07 L513.33,158.97 L514.07,158.90 L514.82,158.86 L515.56,158.85 L516.31,158.86 L517.05,158.91 L517.80,158.99 L518.54,159.09 L519.28,159.22 L520.02,159.38 L520.76,159.57 L521.49,159.78 L522.22,160.01 L522.94,160.27 L523.66,160.56 L524.36,160.87 L525.07,161.20 L525.76,161.56 L526.44,161.94 L527.11,162.34 L527.78,162.76 L528.43,163.20 L529.07,163.66 L529.69,164.14 L530.31,164.64 L530.91,165.16 L531.49,165.70 L532.06,166.26 L532.62,166.83 L533.16,167.42 L533.70,168.02 L534.21,168.63 L534.72,169.26 L535.22,169.90 L535.71,170.56 L536.19,171.22 L536.66,171.89 L537.12,172.57 L537.58,173.26 L538.03,173.95 L538.47,174.65 L538.91,175.36 L539.34,176.06 L539.77,176.78 L540.20,177.49 L540.62,178.21 L541.04,178.92 L541.47,179.64 L541.89,180.35 L542.30,181.07 L542.72,181.79 L543.13,182.51 L543.55,183.22 L543.96,183.94 L544.37,184.66 L544.78,185.37 L545.18,186.09 L545.59,186.81 L545.99,187.53 L546.40,188.25 L546.80,188.97 L547.20,189.68 L547.60,190.40 L547.99,191.12 L548.39,191.84 L548.79,192.56 L549.18,193.28 L549.57,194.00 L549.96,194.72 L550.35,195.44 L550.74,196.16 L551.13,196.88 L551.51,197.60 L551.90,198.32 L552.28,199.04 L552.67,199.76 L553.05,200.48 L553.43,201.20 L553.81,201.92 L554.19,202.64 L554.57,203.36 L554.94,204.08 L555.32,204.80 L555.69,205.52 L556.07,206.24 L556.44,206.96 L556.81,207.69 L557.18,208.41 L557.55,209.13 L557.92,209.85 L558.29,210.57 L558.66,211.29 L559.02,212.01 L559.39,212.73 L559.75,213.45 L560.12,214.17 L560.48,214.89 L560.84,215.61 L561.21,216.33 L561.57,217.05 L561.93,217.78 L562.29,218.50 L562.65,219.22 L563.01,219.94 L563.37,220.66 L563.72,221.38 L564.08,222.10 L564.44,222.82 L564.79,223.54 L565.15,224.26 L565.51,224.98 L565.86,225.70 L566.22,226.42 L566.57,227.14 L566.92,227.86 L567.28,228.57 L567.63,229.29 L567.98,230.01 L568.33,230.73 L568.68,231.45 L569.04,232.17 L569.39,232.89 L569.74,233.61 L570.09,234.32 L570.44,235.04 L570.79,235.76 L571.14,236.48 L571.49,237.19 L571.84,237.91 L572.19,238.63 L572.54,239.35 L572.89,240.06 L573.24,240.78 L573.58,241.50 L573.93,242.21 L574.28,242.93 L574.63,243.64 L574.98,244.36 L575.33,245.07 L575.68,245.79 L576.03,246.50 L576.38,247.22 L576.73,247.93 L577.08,248.65 L577.43,249.36 L577.78,250.07 L578.13,250.79 L578.48,251.50 L578.83,252.21 L579.18,252.92 L579.53,253.64 L579.88,254.35 L580.23,255.06 L580.58,255.77 L580.93,256.48 L581.29,257.19 L581.64,257.90 L581.99,258.61 L582.34,259.32 L582.70,260.03 L583.05,260.74 L583.41,261.45 L583.76,262.16 L584.12,262.86 L584.47,263.57 L584.83,264.28 L585.19,264.99 L585.54,265.69 L585.90,266.40 L586.26,267.10 L586.62,267.81 L586.98,268.51 L587.34,269.22 L587.70,269.92 L588.06,270.63 L588.43,271.33 L588.79,272.03 L589.15,272.73 L589.52,273.44 L589.88,274.14 L590.25,274.84 L590.62,275.54 L590.99,276.24 L591.35,276.94 L591.72,277.64 L592.09,278.34 L592.47,279.04 L592.84,279.73 L593.21,280.43 L593.59,281.13 L593.96,281.82 L594.34,282.52 L594.71,283.22 L595.09,283.91 L595.47,284.60 L595.85,285.30 L596.23,285.99 L596.62,286.68 L597.00,287.38 L597.38,288.07 L597.77,288.76 L598.16,289.45 L598.54,290.14 L598.93,290.83 L599.32,291.52 L599.72,292.21 L600.11,292.90 L600.50,293.58 L600.90,294.27 L601.30,294.96 L601.69,295.64 L602.09,296.33 L602.49,297.01 L602.90,297.70 L603.30,298.38 L603.70,299.06 L604.11,299.74 L604.52,300.43 L604.93,301.11 L605.34,301.79 L605.75,302.47 L606.17,303.14 L606.58,303.82 L607.00,304.50 L607.42,305.18 L607.84,305.85 L608.26,306.53 L608.68,307.20 L609.11,307.88 L609.53,308.55 L609.96,309.23 L610.39,309.90 L610.82,310.57 L611.25,311.24 L611.69,311.91 L612.12,312.58 L612.56,313.25 L612.99,313.92 L613.43,314.59 L613.87,315.26 L614.31,315.92 L614.76,316.59 L615.20,317.26 L615.65,317.92 L616.09,318.59 L616.54,319.25 L616.99,319.92 L617.44,320.58 L617.89,321.25 L618.34,321.91 L618.79,322.57 L619.25,323.23 L619.70,323.89 L620.16,324.55 L620.61,325.22 L621.07,325.88 L621.53,326.54 L621.99,327.19 L622.45,327.85 L622.91,328.51 L623.37,329.17 L623.84,329.83 L624.30,330.49 L624.77,331.14 L625.23,331.80 L625.70,332.46 L626.16,333.11 L626.63,333.77 L627.10,334.42 L627.57,335.08 L628.04,335.73 L628.51,336.39 L628.98,337.04 L629.45,337.69 L629.92,338.35 L630.39,339.00 L630.86,339.65 L631.34,340.31 L631.81,340.96 L632.28,341.61 L632.76,342.26 L633.23,342.91 L633.71,343.57 L634.18,344.22 L634.66,344.87 L635.13,345.52 L635.61,346.17 L636.08,346.82 L636.56,347.47 L637.04,348.12 L637.51,348.77 L637.99,349.42 L638.47,350.07 L638.94,350.72 L639.42,351.37 L639.90,352.02 L640.38,352.67 L640.85,353.32 L641.33,353.97 L641.81,354.61 L642.28,355.26 L642.76,355.91 L643.24,356.56 L643.72,357.21 L644.19,357.86 L644.67,358.51 L645.15,359.15 L645.62,359.80 L646.10,360.45 L646.57,361.10 L647.05,361.75 L647.52,362.40 L648.00,363.05 L648.47,363.69 L648.95,364.34 L649.42,364.99 L649.90,365.64 L650.37,366.29 L650.84,366.94 L651.31,367.58 L651.79,368.23 L652.26,368.88 L652.73,369.53 L653.20,370.18 L653.67,370.83 L654.14,371.48 L654.60,372.13 L655.07,372.78 L655.54,373.43 L656.01,374.08 L656.47,374.73 L656.94,375.38 L657.40,376.03 L657.86,376.68 L658.33,377.33 L658.79,377.98 L659.25,378.63 L659.71,379.28 L660.18,379.93 L660.64,380.58 L661.10,381.23 L661.55,381.88 L662.01,382.54 L662.47,383.19 L662.93,383.84 L663.39,384.49 L663.84,385.15 L664.30,385.80 L664.75,386.45 L665.21,387.10 L665.66,387.76 L666.11,388.41 L666.57,389.07 L667.02,389.72 L667.47,390.37 L667.92,391.03 L668.37,391.68 L668.82,392.34 L669.27,392.99 L669.72,393.65 L670.17,394.30 L670.62,394.96 L671.07,395.62 L671.52,396.27 L671.96,396.93 L672.41,397.59 L672.86,398.25 L673.30,398.90 L673.75,399.56 L674.19,400.22 L674.63,400.88 L675.08,401.54 L675.52,402.20 L675.96,402.86 L676.41,403.52 L676.85,404.18 L677.29,404.84 L677.73,405.50 L678.17,406.16 L678.61,406.82 L679.05,407.48 L679.49,408.15 L679.93,408.81 L680.36,409.47 L680.80,410.14 L681.24,410.80 L681.68,411.46 L682.11,412.13 L682.55,412.79 L682.99,413.46 L683.42,414.12 L683.86,414.79 L684.29,415.46 L684.72,416.12 L685.16,416.79 L685.59,417.46 L686.03,418.13 L686.46,418.79 L686.89,419.46 L687.32,420.13 L687.75,420.80 L688.19,421.47 L688.62,422.14 L689.05,422.81 L689.48,423.49 L689.91,424.16 L690.34,424.83 L690.77,425.50 L691.20,426.18 L691.62,426.85 L692.05,427.53 L692.48,428.20 L692.91,428.88 L693.34,429.55 L693.76,430.23 L694.19,430.90 L694.62,431.58 L695.04,432.26 L695.47,432.94 L695.90,433.62 L696.32,434.30 L696.75,434.98 L697.17,435.66 L697.60,436.34 L698.02,437.02 L698.45,437.70 L698.87,438.38 L699.29,439.07 L699.72,439.75 L700.14,440.43 L700.56,441.12 L700.99,441.80 L701.41,442.49 L701.83,443.17 L702.25,443.86 L702.68,444.55 L703.10,445.23 L703.52,445.92 L703.95,446.61 L704.37,447.30 L704.79,447.98 L705.22,448.67 L705.64,449.36 L706.06,450.04 L706.49,450.73 L706.91,451.42 L707.34,452.10 L707.76,452.79 L708.19,453.48 L708.62,454.16 L709.04,454.85 L709.47,455.53 L709.90,456.22 L710.33,456.90 L710.76,457.58 L711.19,458.27 L711.62,458.95 L712.06,459.63 L712.49,460.31 L712.93,460.99 L713.36,461.66 L713.80,462.34 L714.24,463.02 L714.68,463.69 L715.12,464.37 L715.56,465.04 L716.00,465.71 L716.44,466.38 L716.89,467.05 L717.34,467.72 L717.78,468.39 L718.23,469.05 L718.68,469.72 L719.14,470.38 L719.59,471.04 L720.05,471.70 L720.50,472.35 L720.96,473.01 L721.42,473.66 L721.89,474.32 L722.35,474.97 L722.82,475.61 L723.29,476.26 L723.76,476.90 L724.23,477.55 L724.70,478.19 L725.18,478.83 L725.66,479.46 L726.14,480.09 L726.62,480.73 L727.10,481.35 L727.59,481.98 L728.08,482.61 L728.57,483.23 L729.07,483.85 L729.56,484.47 L730.06,485.08 L730.56,485.70 L731.06,486.31 L731.56,486.92 L732.07,487.53 L732.57,488.13 L733.08,488.74 L733.59,489.34 L734.10,489.94 L734.62,490.54 L735.13,491.14 L735.65,491.74 L736.16,492.33 L736.68,492.93 L737.20,493.52 L737.72,494.11 L738.25,494.71 L738.77,495.30 L739.30,495.88 L739.82,496.47 L740.35,497.06 L740.87,497.65 L741.40,498.23 L741.93,498.82 L742.46,499.40 L742.99,499.99 L743.52,500.57 L744.06,501.15 L744.59,501.74 L745.12,502.32 L745.66,502.90 L746.19,503.48 L746.72,504.07 L747.26,504.65 L747.79,505.23 L748.33,505.81 L748.86,506.39 L749.40,506.98 L749.94,507.56 L750.47,508.14 L751.01,508.72 L751.54,509.31 L752.08,509.89 L752.61,510.48 L753.15,511.06 L753.69,511.64 L754.22,512.23 L754.76,512.81 L755.29,513.40 L755.83,513.98 L756.37,514.57 L756.91,515.15 L757.44,515.73 L757.98,516.32 L758.52,516.90 L759.06,517.48 L759.60,518.07 L760.14,518.65 L760.68,519.23 L761.22,519.81 L761.77,520.39 L762.31,520.97 L762.85,521.55 L763.40,522.13 L763.95,522.71 L764.49,523.29 L765.04,523.87 L765.59,524.44 L766.14,525.02 L766.69,525.59 L767.24,526.17 L767.79,526.74 L768.35,527.31 L768.90,527.88 L769.46,528.45 L770.02,529.02 L770.58,529.58 L771.14,530.15 L771.70,530.71 L772.26,531.27 L772.83,531.84 L773.40,532.40 L773.96,532.95 L774.53,533.51 L775.11,534.06 L775.68,534.62 L776.25,535.17 L776.83,535.72 L777.41,536.27 L777.99,536.81 L778.57,537.36 L779.15,537.90 L779.74,538.44 L780.33,538.98 L780.92,539.52 L781.51,540.05 L782.10,540.58 L782.70,541.11 L783.30,541.64 L783.90,542.17 L784.50,542.69 L785.11,543.21 L785.71,543.73 L786.32,544.25 L786.94,544.76 L787.55,545.27 L788.17,545.78 L788.79,546.29 L789.41,546.79 L790.03,547.29 L790.66,547.79 L791.29,548.28 L791.92,548.77 L792.56,549.26 L793.20,549.75 L793.84,550.23 L794.48,550.71 L795.13,551.19 L795.78,551.66 L796.43,552.13 L797.08,552.60 L797.74,553.07 L798.40,553.53 L799.06,553.98 L799.73,554.44 L800.40,554.89 L801.06,555.33 L801.74,555.78 L802.41,556.22 L803.09,556.65 L803.77,557.08 L804.45,557.51 L805.14,557.93 L805.82,558.35 L806.51,558.77 L807.20,559.18 L807.90,559.59 L808.59,559.99 L809.29,560.39 L809.99,560.78 L810.70,561.17 L811.40,561.56 L812.11,561.94 L812.82,562.32 L813.53,562.69 L814.24,563.06 L814.96,563.42 L815.68,563.78 L816.40,564.13 L817.12,564.48 L817.84,564.82 L818.57,565.16 L819.30,565.49 L820.03,565.82 L820.76,566.14 L821.49,566.46 L822.23,566.77 L822.97,567.08 L823.71,567.38 L824.45,567.68 L825.19,567.97 L825.94,568.25 L826.69,568.53 L827.43,568.81 L828.18,569.08 L828.94,569.34 L829.69,569.59 L830.45,569.84 L831.20,570.09 L831.96,570.33 L832.72,570.56 L833.49,570.79 L834.25,571.01 L835.02,571.22 L835.78,571.43 L836.55,571.63 L837.32,571.83 L838.09,572.01 L838.86,572.20 L839.64,572.37 L840.41,572.54 L841.19,572.70 L841.97,572.86 L842.75,573.01 L843.53,573.15 L844.31,573.28 L845.10,573.41 L845.88,573.53 L846.67,573.65 L847.46,573.75 L848.25,573.85 L849.04,573.95 L849.83,574.03 L850.62,574.11 L851.41,574.19 L852.21,574.26 L853.00,574.32 L853.80,574.38 L854.60,574.43 L855.39,574.47 L856.19,574.51 L856.99,574.54 L857.79,574.57 L858.59,574.60 L859.40,574.62 L860.20,574.63 L861.00,574.64 L861.81,574.65 L862.61,574.65 L863.42,574.65 L864.22,574.64 L865.03,574.63 L865.83,574.61 L866.64,574.60 L867.45,574.57 L868.26,574.55 L869.06,574.52 L869.87,574.49 L870.68,574.46 L871.49,574.42 L872.30,574.38 L873.11,574.34 L873.92,574.30 L874.72,574.25 L875.53,574.21 L876.34,574.16 L877.15,574.10 L877.96,574.05 L878.77,574.00 L879.58,573.94 L880.39,573.89 L881.19,573.83 L882.00,573.77 L882.81,573.71 L883.62,573.65 L884.42,573.59 L885.23,573.53 L886.04,573.47 L886.84,573.41 L887.65,573.35 L888.45,573.29 L889.26,573.23 L890.06,573.17 L890.86,573.11 L891.67,573.05 L892.47,573.00 L893.27,572.94 L894.07,572.89 L894.87,572.84 L895.66,572.78 L896.46,572.74 L897.26,572.69 L898.05,572.64 L898.85,572.60 L899.64,572.56 L900.43,572.52 L901.23,572.48 L902.02,572.45 L902.81,572.42 L903.59,572.39 L904.38,572.37 L905.17,572.35 L905.95,572.33 L906.73,572.32 L907.51,572.31 L908.00,572.30" fill="none" stroke="#000" stroke-width="3.0" stroke-linejoin="round" stroke-linecap="butt"/>
<circle cx="123.3" cy="496.3" r="4.3" fill="#000"/>
<circle cx="206.5" cy="443.7" r="4.3" fill="#000"/>
<circle cx="273.8" cy="398.2" r="4.3" fill="#000"/>
<circle cx="360.6" cy="391.8" r="4.3" fill="#000"/>
<circle cx="438.8" cy="276.5" r="4.3" fill="#000"/>
<circle cx="516.4" cy="158.7" r="4.3" fill="#000"/>
<circle cx="597.5" cy="288.3" r="4.3" fill="#000"/>
<circle cx="675.5" cy="402.2" r="4.3" fill="#000"/>
<circle cx="757.1" cy="515.2" r="4.3" fill="#000"/>
<circle cx="832.8" cy="570.6" r="4.3" fill="#000"/>
<circle cx="908" cy="572.3" r="4.3" fill="#000"/>
<rect x="40" y="592" width="960" height="2" fill="#000"/>
<text x="368.50" y="221.70" font-size="23.26" fill="#141414" textLength="29.30" lengthAdjust="spacingAndGlyphs" stroke="#141414" stroke-width="0.6">LNG</text>
<text x="102.20" y="304.00" font-size="22.38" fill="#141414" textLength="217.78" lengthAdjust="spacingAndGlyphs" stroke="#141414" stroke-width="0.6">Russische Gaslieferungen via</text>
<text x="139.40" y="328.50" font-size="21.51" fill="#141414" textLength="143.60" lengthAdjust="spacingAndGlyphs" stroke="#141414" stroke-width="0.6">Pipeline Nov.-März</text>
<text x="435.80" y="335.60" font-size="22.09" fill="#141414" textLength="167.01" lengthAdjust="spacingAndGlyphs" stroke="#141414" stroke-width="0.6">Sonstige Gaslieferung</text>
<text x="435.10" y="359.80" font-size="22.09" fill="#141414" textLength="170.40" lengthAdjust="spacingAndGlyphs" stroke="#141414" stroke-width="0.6">via Pipeline Nov.-März</text>
<text x="44.80" y="414.00" font-size="22.09" fill="#141414" textLength="84.00" lengthAdjust="spacingAndGlyphs" stroke="#141414" stroke-width="0.6">Produktion</text>
<text x="52.00" y="438.00" font-size="22.38" fill="#141414" textLength="77.30" lengthAdjust="spacingAndGlyphs" stroke="#141414" stroke-width="0.6">Nov.-März</text>
<text x="201.60" y="497.60" font-size="22.67" fill="#141414" textLength="166.41" lengthAdjust="spacingAndGlyphs" stroke="#141414" stroke-width="0.6">Gasspeicher Ende Okt.</text>
<text x="48.40" y="564.40" font-size="22.38" fill="#141414" textLength="167.61" lengthAdjust="spacingAndGlyphs" stroke="#141414" stroke-width="0.6">Gasspeicher Ende Juni</text>
<text x="629.70" y="222.10" font-size="22.53" fill="#141414" textLength="157.91" lengthAdjust="spacingAndGlyphs" stroke="#141414" stroke-width="0.6">Haushalte Verbrauch</text>
<text x="695.40" y="360.30" font-size="21.80" fill="#141414" textLength="144.80" lengthAdjust="spacingAndGlyphs" stroke="#141414" stroke-width="0.6">Industrieverbrauch</text>
<text x="778.90" y="474.20" font-size="23.26" fill="#141414" textLength="131.90" lengthAdjust="spacingAndGlyphs" stroke="#141414" stroke-width="0.6">Stromproduktion</text>
<text x="576.00" y="550.10" font-size="23.26" fill="#141414" textLength="154.10" lengthAdjust="spacingAndGlyphs" stroke="#141414" stroke-width="0.6">Sonstiger Verbrauch</text>
<text x="907.80" y="561.30" font-size="21.95" fill="#141414" textLength="90.10" lengthAdjust="spacingAndGlyphs" stroke="#141414" stroke-width="0.6">Gasspeicher</text>
<text x="920.10" y="585.50" font-size="22.38" fill="#141414" textLength="76.99" lengthAdjust="spacingAndGlyphs" stroke="#141414" stroke-width="0.6">März 2023</text>
<text x="363.75" y="619.50" font-size="22.89" fill="#141414" textLength="222.50" lengthAdjust="spacingAndGlyphs" stroke="#141414" stroke-width="0.6">Ende Juni 2022 bis März 2023</text>
<text x="829.60" y="646.40" font-size="12.79" fill="#505050" textLength="171.90" lengthAdjust="spacingAndGlyphs" stroke="#505050" stroke-width="0">Quelle: UBS / Grafik: FuW, sp</text>
</svg>
</body></html>
